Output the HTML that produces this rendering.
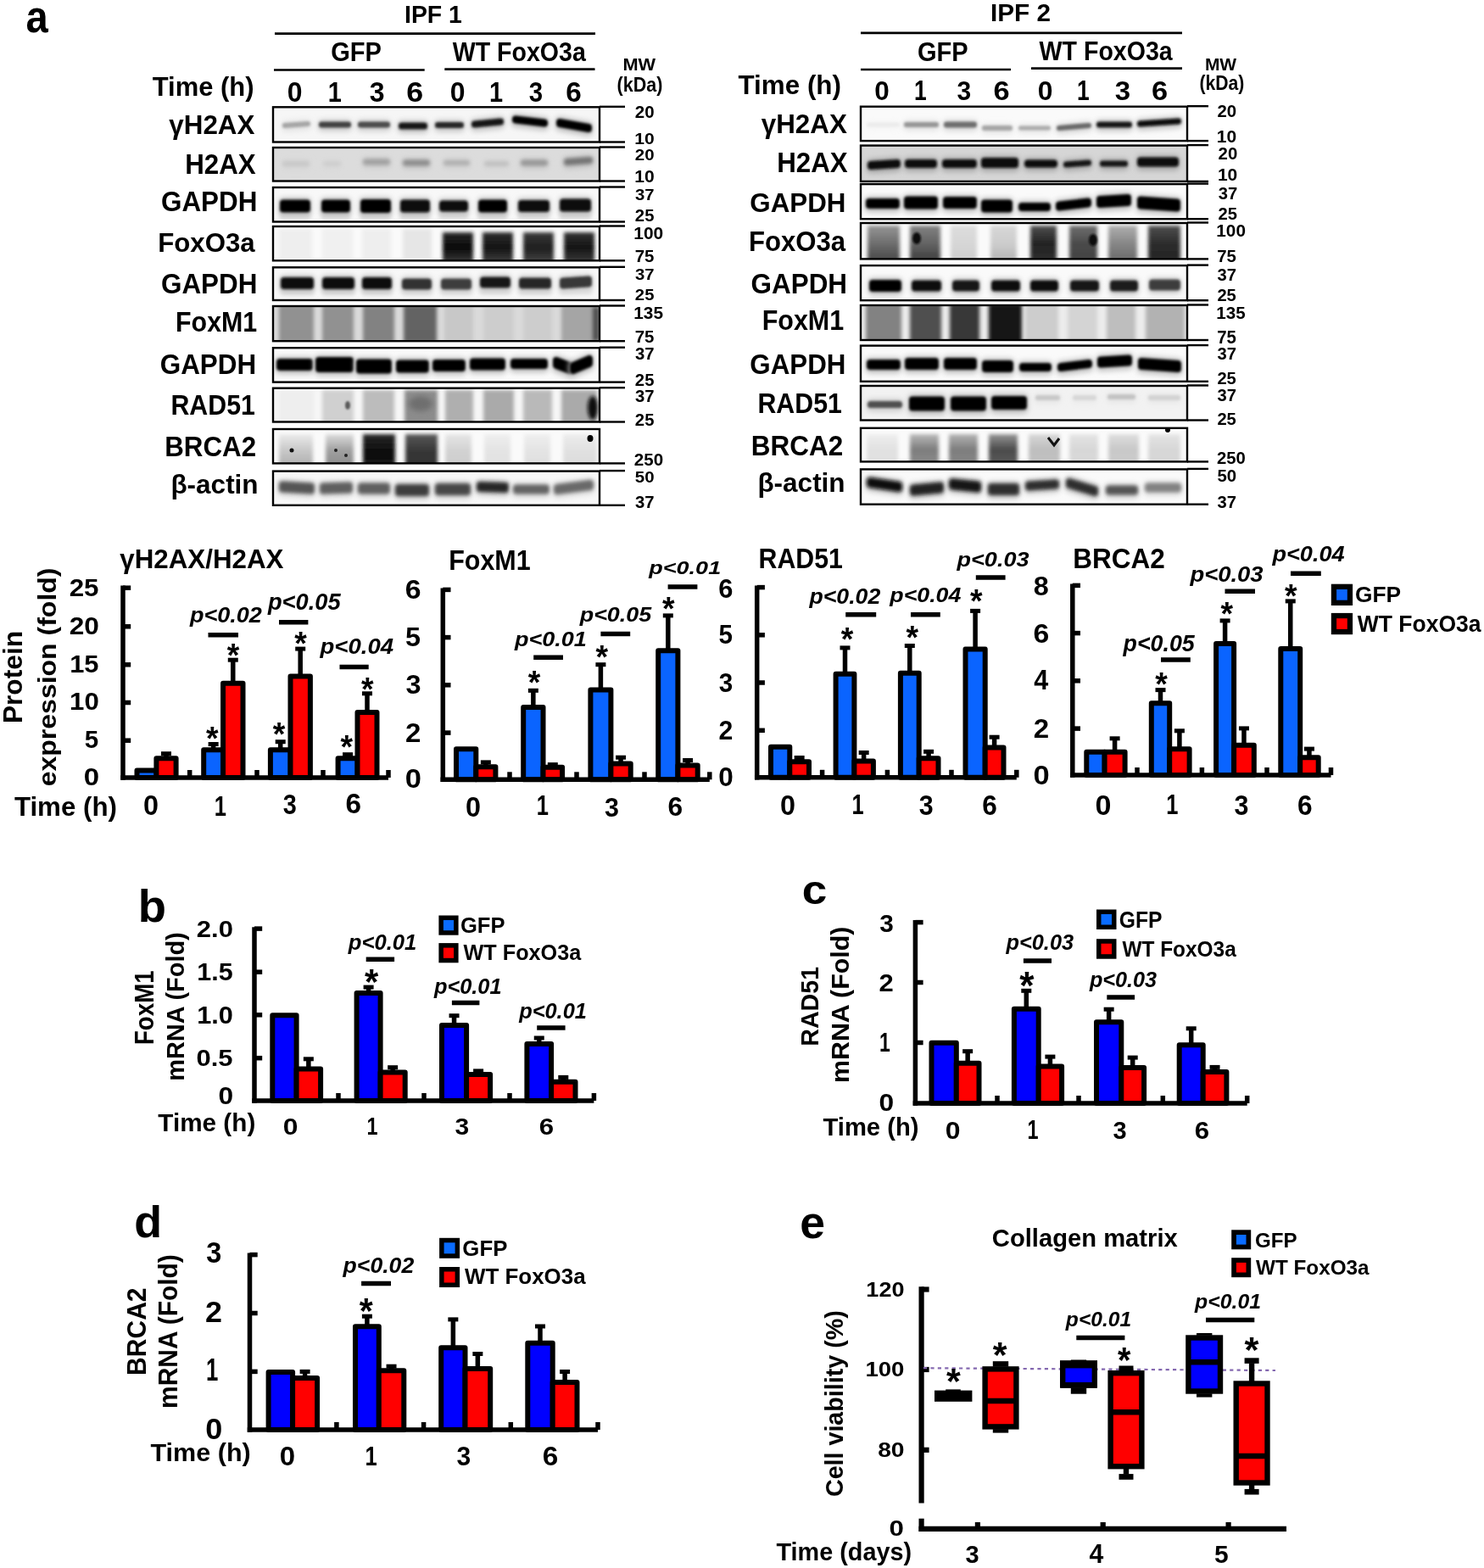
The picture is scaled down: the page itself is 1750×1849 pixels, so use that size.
<!DOCTYPE html>
<html><head><meta charset="utf-8"><title>Figure</title>
<style>html,body{margin:0;padding:0;background:#fff;}svg{display:block;}</style></head>
<body><svg width="1750" height="1849" viewBox="0 0 1750 1849" font-family="'Liberation Sans', Arial, Helvetica, sans-serif">
<rect width="1750" height="1849" fill="#fff"/>
<defs>
<filter id="bl1" filterUnits="userSpaceOnUse" x="0" y="0" width="1750" height="700"><feGaussianBlur stdDeviation="1.2"/></filter>
<filter id="bl15" filterUnits="userSpaceOnUse" x="0" y="0" width="1750" height="700"><feGaussianBlur stdDeviation="1.6"/></filter>
<filter id="bl2" filterUnits="userSpaceOnUse" x="0" y="0" width="1750" height="700"><feGaussianBlur stdDeviation="2"/></filter>
<filter id="bl3" filterUnits="userSpaceOnUse" x="0" y="0" width="1750" height="700"><feGaussianBlur stdDeviation="3"/></filter>
</defs>
<text x="30.58" y="38.45" font-size="54.55" font-weight="bold" textLength="26.24" lengthAdjust="spacingAndGlyphs" fill="#000">a</text>
<text x="477.01" y="27.30" font-size="30.00" font-weight="bold" textLength="67.83" lengthAdjust="spacingAndGlyphs" fill="#000">IPF 1</text>
<line x1="324" y1="39.6" x2="702" y2="39.6" stroke="#000" stroke-width="2.6" stroke-linecap="butt"/>
<text x="390.14" y="72.29" font-size="30.56" font-weight="bold" textLength="59.70" lengthAdjust="spacingAndGlyphs" fill="#000">GFP</text>
<text x="533.70" y="72.28" font-size="31.83" font-weight="bold" textLength="157.13" lengthAdjust="spacingAndGlyphs" fill="#000">WT FoxO3a</text>
<line x1="323" y1="82.5" x2="500.7" y2="82.5" stroke="#000" stroke-width="2.6" stroke-linecap="butt"/>
<line x1="524.3" y1="81.6" x2="701.5" y2="81.6" stroke="#000" stroke-width="2.6" stroke-linecap="butt"/>
<text x="179.69" y="112.52" font-size="30.85" font-weight="bold" textLength="119.88" lengthAdjust="spacingAndGlyphs" fill="#000">Time (h)</text>
<text x="338.72" y="119.87" font-size="32.68" font-weight="bold" textLength="17.75" lengthAdjust="spacingAndGlyphs" fill="#000">0</text>
<text x="386.66" y="120.20" font-size="33.62" font-weight="bold" textLength="16.10" lengthAdjust="spacingAndGlyphs" fill="#000">1</text>
<text x="435.66" y="119.87" font-size="32.68" font-weight="bold" textLength="17.80" lengthAdjust="spacingAndGlyphs" fill="#000">3</text>
<text x="479.17" y="119.87" font-size="32.68" font-weight="bold" textLength="19.93" lengthAdjust="spacingAndGlyphs" fill="#000">6</text>
<text x="530.72" y="119.87" font-size="32.68" font-weight="bold" textLength="17.75" lengthAdjust="spacingAndGlyphs" fill="#000">0</text>
<text x="577.06" y="120.20" font-size="33.62" font-weight="bold" textLength="16.10" lengthAdjust="spacingAndGlyphs" fill="#000">1</text>
<text x="623.71" y="119.87" font-size="32.68" font-weight="bold" textLength="16.35" lengthAdjust="spacingAndGlyphs" fill="#000">3</text>
<text x="667.17" y="119.87" font-size="32.68" font-weight="bold" textLength="18.54" lengthAdjust="spacingAndGlyphs" fill="#000">6</text>
<text x="734.48" y="83.30" font-size="19.57" font-weight="bold" textLength="38.67" lengthAdjust="spacingAndGlyphs" fill="#000">MW</text>
<text x="727.62" y="107.86" font-size="23.51" font-weight="bold" textLength="53.76" lengthAdjust="spacingAndGlyphs" fill="#000">(kDa)</text>
<text x="1167.92" y="24.50" font-size="29.57" font-weight="bold" textLength="71.06" lengthAdjust="spacingAndGlyphs" fill="#000">IPF 2</text>
<line x1="1015" y1="38.9" x2="1394" y2="38.9" stroke="#000" stroke-width="2.6" stroke-linecap="butt"/>
<text x="1082.04" y="72.28" font-size="31.83" font-weight="bold" textLength="59.70" lengthAdjust="spacingAndGlyphs" fill="#000">GFP</text>
<text x="1225.60" y="70.98" font-size="31.83" font-weight="bold" textLength="157.13" lengthAdjust="spacingAndGlyphs" fill="#000">WT FoxO3a</text>
<line x1="1015" y1="82" x2="1192" y2="82" stroke="#000" stroke-width="2.6" stroke-linecap="butt"/>
<line x1="1216" y1="80.6" x2="1394" y2="80.6" stroke="#000" stroke-width="2.6" stroke-linecap="butt"/>
<text x="870.49" y="111.30" font-size="31.91" font-weight="bold" textLength="121.50" lengthAdjust="spacingAndGlyphs" fill="#000">Time (h)</text>
<text x="1031.14" y="117.68" font-size="31.97" font-weight="bold" textLength="17.52" lengthAdjust="spacingAndGlyphs" fill="#000">0</text>
<text x="1077.92" y="118.00" font-size="32.90" font-weight="bold" textLength="14.68" lengthAdjust="spacingAndGlyphs" fill="#000">1</text>
<text x="1128.40" y="117.68" font-size="31.97" font-weight="bold" textLength="16.69" lengthAdjust="spacingAndGlyphs" fill="#000">3</text>
<text x="1171.42" y="117.68" font-size="31.97" font-weight="bold" textLength="19.12" lengthAdjust="spacingAndGlyphs" fill="#000">6</text>
<text x="1223.72" y="117.68" font-size="31.97" font-weight="bold" textLength="17.75" lengthAdjust="spacingAndGlyphs" fill="#000">0</text>
<text x="1269.92" y="118.00" font-size="32.90" font-weight="bold" textLength="14.68" lengthAdjust="spacingAndGlyphs" fill="#000">1</text>
<text x="1314.74" y="117.68" font-size="31.97" font-weight="bold" textLength="18.36" lengthAdjust="spacingAndGlyphs" fill="#000">3</text>
<text x="1357.92" y="117.68" font-size="31.97" font-weight="bold" textLength="19.12" lengthAdjust="spacingAndGlyphs" fill="#000">6</text>
<text x="1420.93" y="83.00" font-size="20.00" font-weight="bold" textLength="37.21" lengthAdjust="spacingAndGlyphs" fill="#000">MW</text>
<text x="1414.44" y="105.87" font-size="23.94" font-weight="bold" textLength="52.93" lengthAdjust="spacingAndGlyphs" fill="#000">(kDa)</text>
<text x="199.29" y="158.35" font-size="31.65" font-weight="bold" textLength="101.15" lengthAdjust="spacingAndGlyphs" fill="#000">γH2AX</text>
<text x="218.21" y="204.60" font-size="32.57" font-weight="bold" textLength="83.54" lengthAdjust="spacingAndGlyphs" fill="#000">H2AX</text>
<text x="189.94" y="249.47" font-size="33.24" font-weight="bold" textLength="113.50" lengthAdjust="spacingAndGlyphs" fill="#000">GAPDH</text>
<text x="186.21" y="297.48" font-size="32.11" font-weight="bold" textLength="114.52" lengthAdjust="spacingAndGlyphs" fill="#000">FoxO3a</text>
<text x="189.94" y="346.27" font-size="32.68" font-weight="bold" textLength="113.50" lengthAdjust="spacingAndGlyphs" fill="#000">GAPDH</text>
<text x="207.07" y="390.67" font-size="32.57" font-weight="bold" textLength="96.15" lengthAdjust="spacingAndGlyphs" fill="#000">FoxM1</text>
<text x="188.74" y="440.67" font-size="33.24" font-weight="bold" textLength="113.50" lengthAdjust="spacingAndGlyphs" fill="#000">GAPDH</text>
<text x="201.48" y="489.07" font-size="32.57" font-weight="bold" textLength="99.40" lengthAdjust="spacingAndGlyphs" fill="#000">RAD51</text>
<text x="194.21" y="537.87" font-size="32.68" font-weight="bold" textLength="108.00" lengthAdjust="spacingAndGlyphs" fill="#000">BRCA2</text>
<text x="201.40" y="582.19" font-size="31.49" font-weight="bold" textLength="103.21" lengthAdjust="spacingAndGlyphs" fill="#000">β-actin</text>
<text x="897.69" y="157.15" font-size="31.65" font-weight="bold" textLength="101.15" lengthAdjust="spacingAndGlyphs" fill="#000">γH2AX</text>
<text x="916.21" y="203.40" font-size="32.57" font-weight="bold" textLength="83.54" lengthAdjust="spacingAndGlyphs" fill="#000">H2AX</text>
<text x="884.35" y="250.28" font-size="32.11" font-weight="bold" textLength="113.09" lengthAdjust="spacingAndGlyphs" fill="#000">GAPDH</text>
<text x="883.02" y="296.27" font-size="32.68" font-weight="bold" textLength="114.11" lengthAdjust="spacingAndGlyphs" fill="#000">FoxO3a</text>
<text x="885.54" y="346.27" font-size="32.68" font-weight="bold" textLength="113.50" lengthAdjust="spacingAndGlyphs" fill="#000">GAPDH</text>
<text x="898.67" y="389.47" font-size="33.14" font-weight="bold" textLength="96.56" lengthAdjust="spacingAndGlyphs" fill="#000">FoxM1</text>
<text x="884.35" y="440.67" font-size="33.24" font-weight="bold" textLength="113.09" lengthAdjust="spacingAndGlyphs" fill="#000">GAPDH</text>
<text x="893.48" y="486.67" font-size="32.57" font-weight="bold" textLength="99.40" lengthAdjust="spacingAndGlyphs" fill="#000">RAD51</text>
<text x="885.80" y="536.67" font-size="33.24" font-weight="bold" textLength="108.41" lengthAdjust="spacingAndGlyphs" fill="#000">BRCA2</text>
<text x="893.40" y="579.79" font-size="31.49" font-weight="bold" textLength="103.21" lengthAdjust="spacingAndGlyphs" fill="#000">β-actin</text>
<text x="748.89" y="139.31" font-size="19.30" font-weight="bold" textLength="22.78" lengthAdjust="spacingAndGlyphs" fill="#000">20</text>
<text x="748.23" y="169.81" font-size="19.15" font-weight="bold" textLength="23.46" lengthAdjust="spacingAndGlyphs" fill="#000">10</text>
<text x="748.89" y="188.61" font-size="19.15" font-weight="bold" textLength="22.78" lengthAdjust="spacingAndGlyphs" fill="#000">20</text>
<text x="748.23" y="215.31" font-size="19.30" font-weight="bold" textLength="23.46" lengthAdjust="spacingAndGlyphs" fill="#000">10</text>
<text x="749.09" y="236.01" font-size="19.15" font-weight="bold" textLength="22.56" lengthAdjust="spacingAndGlyphs" fill="#000">37</text>
<text x="748.89" y="261.41" font-size="19.30" font-weight="bold" textLength="22.56" lengthAdjust="spacingAndGlyphs" fill="#000">25</text>
<text x="747.24" y="282.10" font-size="20.14" font-weight="bold" textLength="34.97" lengthAdjust="spacingAndGlyphs" fill="#000">100</text>
<text x="748.68" y="308.80" font-size="19.57" font-weight="bold" textLength="22.78" lengthAdjust="spacingAndGlyphs" fill="#000">75</text>
<text x="749.09" y="329.51" font-size="19.15" font-weight="bold" textLength="22.56" lengthAdjust="spacingAndGlyphs" fill="#000">37</text>
<text x="748.89" y="354.21" font-size="19.15" font-weight="bold" textLength="22.56" lengthAdjust="spacingAndGlyphs" fill="#000">25</text>
<text x="747.25" y="375.80" font-size="19.72" font-weight="bold" textLength="34.74" lengthAdjust="spacingAndGlyphs" fill="#000">135</text>
<text x="748.68" y="403.90" font-size="20.14" font-weight="bold" textLength="22.78" lengthAdjust="spacingAndGlyphs" fill="#000">75</text>
<text x="749.09" y="423.60" font-size="19.72" font-weight="bold" textLength="22.56" lengthAdjust="spacingAndGlyphs" fill="#000">37</text>
<text x="748.89" y="454.60" font-size="19.86" font-weight="bold" textLength="22.56" lengthAdjust="spacingAndGlyphs" fill="#000">25</text>
<text x="749.09" y="473.60" font-size="19.86" font-weight="bold" textLength="22.56" lengthAdjust="spacingAndGlyphs" fill="#000">37</text>
<text x="748.89" y="501.70" font-size="19.86" font-weight="bold" textLength="22.56" lengthAdjust="spacingAndGlyphs" fill="#000">25</text>
<text x="747.88" y="548.80" font-size="19.72" font-weight="bold" textLength="34.31" lengthAdjust="spacingAndGlyphs" fill="#000">250</text>
<text x="748.89" y="569.21" font-size="18.87" font-weight="bold" textLength="22.78" lengthAdjust="spacingAndGlyphs" fill="#000">50</text>
<text x="749.09" y="599.39" font-size="20.70" font-weight="bold" textLength="22.56" lengthAdjust="spacingAndGlyphs" fill="#000">37</text>
<text x="1435.39" y="137.89" font-size="20.70" font-weight="bold" textLength="22.67" lengthAdjust="spacingAndGlyphs" fill="#000">20</text>
<text x="1434.74" y="168.39" font-size="20.56" font-weight="bold" textLength="23.35" lengthAdjust="spacingAndGlyphs" fill="#000">10</text>
<text x="1436.59" y="188.09" font-size="20.56" font-weight="bold" textLength="22.67" lengthAdjust="spacingAndGlyphs" fill="#000">20</text>
<text x="1435.94" y="213.29" font-size="20.70" font-weight="bold" textLength="23.35" lengthAdjust="spacingAndGlyphs" fill="#000">10</text>
<text x="1436.80" y="234.70" font-size="19.58" font-weight="bold" textLength="22.46" lengthAdjust="spacingAndGlyphs" fill="#000">37</text>
<text x="1436.59" y="258.60" font-size="20.14" font-weight="bold" textLength="22.46" lengthAdjust="spacingAndGlyphs" fill="#000">25</text>
<text x="1434.36" y="279.49" font-size="20.99" font-weight="bold" textLength="34.54" lengthAdjust="spacingAndGlyphs" fill="#000">100</text>
<text x="1435.18" y="308.79" font-size="20.57" font-weight="bold" textLength="22.67" lengthAdjust="spacingAndGlyphs" fill="#000">75</text>
<text x="1435.60" y="330.79" font-size="20.85" font-weight="bold" textLength="22.46" lengthAdjust="spacingAndGlyphs" fill="#000">37</text>
<text x="1435.39" y="354.99" font-size="20.99" font-weight="bold" textLength="22.46" lengthAdjust="spacingAndGlyphs" fill="#000">25</text>
<text x="1434.37" y="375.59" font-size="20.99" font-weight="bold" textLength="34.32" lengthAdjust="spacingAndGlyphs" fill="#000">135</text>
<text x="1435.18" y="404.89" font-size="21.43" font-weight="bold" textLength="22.67" lengthAdjust="spacingAndGlyphs" fill="#000">75</text>
<text x="1435.60" y="423.90" font-size="20.28" font-weight="bold" textLength="22.46" lengthAdjust="spacingAndGlyphs" fill="#000">37</text>
<text x="1435.39" y="453.20" font-size="20.28" font-weight="bold" textLength="22.46" lengthAdjust="spacingAndGlyphs" fill="#000">25</text>
<text x="1435.60" y="472.70" font-size="20.28" font-weight="bold" textLength="22.46" lengthAdjust="spacingAndGlyphs" fill="#000">37</text>
<text x="1435.39" y="500.50" font-size="20.28" font-weight="bold" textLength="22.46" lengthAdjust="spacingAndGlyphs" fill="#000">25</text>
<text x="1434.99" y="546.70" font-size="20.28" font-weight="bold" textLength="33.89" lengthAdjust="spacingAndGlyphs" fill="#000">250</text>
<text x="1435.39" y="568.29" font-size="20.99" font-weight="bold" textLength="22.67" lengthAdjust="spacingAndGlyphs" fill="#000">50</text>
<text x="1435.60" y="598.59" font-size="20.99" font-weight="bold" textLength="22.46" lengthAdjust="spacingAndGlyphs" fill="#000">37</text>
<clipPath id="c1"><rect x="322" y="126.3" width="385" height="41.2"/></clipPath>
<g clip-path="url(#c1)"><rect x="322" y="126.3" width="385" height="41.2" fill="rgb(246,246,246)"/><path d="M337.0 147.5L362.0 145.5L362.0 148.5L337.0 150.5Z" fill="rgb(228,228,228)" stroke="rgb(228,228,228)" stroke-width="10.0" stroke-linejoin="round" filter="url(#bl3)"/><path d="M335.7 147.7L363.3 145.7L363.3 146.3L335.7 148.3Z" fill="rgb(165,165,165)" stroke="rgb(165,165,165)" stroke-width="5.5" stroke-linejoin="round" filter="url(#bl15)"/><path d="M380.0 146.0L410.0 146.0L410.0 150.0L380.0 150.0Z" fill="rgb(206,206,206)" stroke="rgb(206,206,206)" stroke-width="10.0" stroke-linejoin="round" filter="url(#bl3)"/><path d="M379.2 146.7L410.8 146.7L410.8 147.3L379.2 147.3Z" fill="rgb(65,65,65)" stroke="rgb(65,65,65)" stroke-width="6.4" stroke-linejoin="round" filter="url(#bl15)"/><path d="M426.0 146.0L456.0 146.0L456.0 150.0L426.0 150.0Z" fill="rgb(208,208,208)" stroke="rgb(208,208,208)" stroke-width="10.0" stroke-linejoin="round" filter="url(#bl3)"/><path d="M425.2 146.7L456.8 146.7L456.8 147.3L425.2 147.3Z" fill="rgb(75,75,75)" stroke="rgb(75,75,75)" stroke-width="6.4" stroke-linejoin="round" filter="url(#bl15)"/><path d="M474.0 147.0L500.0 147.0L500.0 152.0L474.0 152.0Z" fill="rgb(196,196,196)" stroke="rgb(196,196,196)" stroke-width="10.0" stroke-linejoin="round" filter="url(#bl3)"/><path d="M473.6 148.1L500.4 148.1L500.4 148.9L473.6 148.9Z" fill="rgb(20,20,20)" stroke="rgb(20,20,20)" stroke-width="7.3" stroke-linejoin="round" filter="url(#bl15)"/><path d="M517.0 146.5L543.0 146.5L543.0 150.5L517.0 150.5Z" fill="rgb(200,200,200)" stroke="rgb(200,200,200)" stroke-width="10.0" stroke-linejoin="round" filter="url(#bl3)"/><path d="M516.2 147.2L543.8 147.2L543.8 147.8L516.2 147.8Z" fill="rgb(40,40,40)" stroke="rgb(40,40,40)" stroke-width="6.4" stroke-linejoin="round" filter="url(#bl15)"/><path d="M560.0 145.0L590.0 142.0L590.0 147.0L560.0 150.0Z" fill="rgb(196,196,196)" stroke="rgb(196,196,196)" stroke-width="10.0" stroke-linejoin="round" filter="url(#bl3)"/><path d="M559.6 146.1L590.4 143.1L590.4 143.9L559.6 146.9Z" fill="rgb(20,20,20)" stroke="rgb(20,20,20)" stroke-width="7.3" stroke-linejoin="round" filter="url(#bl15)"/><path d="M608.0 139.0L642.0 143.0L642.0 149.0L608.0 145.0Z" fill="rgb(192,192,192)" stroke="rgb(192,192,192)" stroke-width="10.0" stroke-linejoin="round" filter="url(#bl3)"/><path d="M608.0 140.5L642.0 144.5L642.0 145.5L608.0 141.5Z" fill="rgb(5,5,5)" stroke="rgb(5,5,5)" stroke-width="8.0" stroke-linejoin="round" filter="url(#bl15)"/><path d="M660.0 142.5L694.0 148.5L694.0 155.5L660.0 149.5Z" fill="rgb(192,192,192)" stroke="rgb(192,192,192)" stroke-width="10.0" stroke-linejoin="round" filter="url(#bl3)"/><path d="M660.0 144.0L694.0 150.0L694.0 152.0L660.0 146.0Z" fill="rgb(5,5,5)" stroke="rgb(5,5,5)" stroke-width="8.0" stroke-linejoin="round" filter="url(#bl15)"/></g>
<rect x="322" y="126.3" width="385" height="41.2" fill="none" stroke="#000" stroke-width="2.4"/>
<line x1="707" y1="125.8" x2="737" y2="125.8" stroke="#000" stroke-width="2.4"/>
<line x1="707" y1="167.5" x2="737" y2="167.5" stroke="#000" stroke-width="2.4"/>
<clipPath id="c2"><rect x="322" y="174" width="385" height="39.5"/></clipPath>
<g clip-path="url(#c2)"><rect x="322" y="174" width="385" height="39.5" fill="rgb(220,220,220)"/><path d="M337.0 192.5L361.0 192.5L361.0 195.5L337.0 195.5Z" fill="rgb(215,215,215)" stroke="rgb(215,215,215)" stroke-width="10.0" stroke-linejoin="round" filter="url(#bl3)"/><path d="M335.7 192.7L362.3 192.7L362.3 193.3L335.7 193.3Z" fill="rgb(200,200,200)" stroke="rgb(200,200,200)" stroke-width="5.5" stroke-linejoin="round" filter="url(#bl2)"/><path d="M385.0 193.0L398.0 193.0L398.0 195.0L385.0 195.0Z" fill="rgb(216,216,216)" stroke="rgb(216,216,216)" stroke-width="10.0" stroke-linejoin="round" filter="url(#bl3)"/><path d="M383.3 192.8L399.7 192.8L399.7 193.2L383.3 193.2Z" fill="rgb(205,205,205)" stroke="rgb(205,205,205)" stroke-width="4.5" stroke-linejoin="round" filter="url(#bl2)"/><path d="M432.0 190.0L456.0 190.0L456.0 194.0L432.0 194.0Z" fill="rgb(206,206,206)" stroke="rgb(206,206,206)" stroke-width="10.0" stroke-linejoin="round" filter="url(#bl3)"/><path d="M431.2 190.7L456.8 190.7L456.8 191.3L431.2 191.3Z" fill="rgb(160,160,160)" stroke="rgb(160,160,160)" stroke-width="6.4" stroke-linejoin="round" filter="url(#bl2)"/><path d="M479.0 191.0L503.0 191.0L503.0 195.0L479.0 195.0Z" fill="rgb(202,202,202)" stroke="rgb(202,202,202)" stroke-width="10.0" stroke-linejoin="round" filter="url(#bl3)"/><path d="M478.2 191.7L503.8 191.7L503.8 192.3L478.2 192.3Z" fill="rgb(140,140,140)" stroke="rgb(140,140,140)" stroke-width="6.4" stroke-linejoin="round" filter="url(#bl2)"/><path d="M527.0 191.5L550.0 191.5L550.0 194.5L527.0 194.5Z" fill="rgb(210,210,210)" stroke="rgb(210,210,210)" stroke-width="10.0" stroke-linejoin="round" filter="url(#bl3)"/><path d="M525.7 191.7L551.3 191.7L551.3 192.3L525.7 192.3Z" fill="rgb(175,175,175)" stroke="rgb(175,175,175)" stroke-width="5.5" stroke-linejoin="round" filter="url(#bl2)"/><path d="M575.0 193.0L596.0 193.0L596.0 195.0L575.0 195.0Z" fill="rgb(213,213,213)" stroke="rgb(213,213,213)" stroke-width="10.0" stroke-linejoin="round" filter="url(#bl3)"/><path d="M573.3 192.8L597.7 192.8L597.7 193.2L573.3 193.2Z" fill="rgb(190,190,190)" stroke="rgb(190,190,190)" stroke-width="4.5" stroke-linejoin="round" filter="url(#bl2)"/><path d="M618.0 191.0L642.0 191.0L642.0 195.0L618.0 195.0Z" fill="rgb(204,204,204)" stroke="rgb(204,204,204)" stroke-width="10.0" stroke-linejoin="round" filter="url(#bl3)"/><path d="M617.2 191.7L642.8 191.7L642.8 192.3L617.2 192.3Z" fill="rgb(150,150,150)" stroke="rgb(150,150,150)" stroke-width="6.4" stroke-linejoin="round" filter="url(#bl2)"/><path d="M669.0 189.5L695.0 187.5L695.0 192.5L669.0 194.5Z" fill="rgb(196,196,196)" stroke="rgb(196,196,196)" stroke-width="10.0" stroke-linejoin="round" filter="url(#bl3)"/><path d="M668.6 190.6L695.4 188.6L695.4 189.4L668.6 191.4Z" fill="rgb(115,115,115)" stroke="rgb(115,115,115)" stroke-width="7.3" stroke-linejoin="round" filter="url(#bl2)"/></g>
<rect x="322" y="174" width="385" height="39.5" fill="none" stroke="#000" stroke-width="2.4"/>
<line x1="707" y1="173.5" x2="737" y2="173.5" stroke="#000" stroke-width="2.4"/>
<line x1="707" y1="213.5" x2="737" y2="213.5" stroke="#000" stroke-width="2.4"/>
<clipPath id="c3"><rect x="322" y="221" width="385" height="40.5"/></clipPath>
<g clip-path="url(#c3)"><rect x="322" y="221" width="385" height="40.5" fill="rgb(248,248,248)"/><rect x="330.0" y="244.0" width="36.0" height="14.0" fill="rgb(215,215,215)" filter="url(#bl2)"/><rect x="379.0" y="244.0" width="34.0" height="14.0" fill="rgb(215,215,215)" filter="url(#bl2)"/><rect x="425.0" y="244.0" width="36.0" height="14.0" fill="rgb(215,215,215)" filter="url(#bl2)"/><rect x="472.0" y="244.0" width="35.0" height="14.0" fill="rgb(215,215,215)" filter="url(#bl2)"/><rect x="518.0" y="244.0" width="34.0" height="14.0" fill="rgb(220,220,220)" filter="url(#bl2)"/><rect x="564.0" y="244.0" width="34.0" height="14.0" fill="rgb(215,215,215)" filter="url(#bl2)"/><rect x="611.0" y="244.0" width="37.0" height="14.0" fill="rgb(220,220,220)" filter="url(#bl2)"/><rect x="660.0" y="244.0" width="37.0" height="14.0" fill="rgb(215,215,215)" filter="url(#bl2)"/><path d="M334.0 238.0L362.0 238.0L362.0 250.0L334.0 250.0Z" fill="rgb(196,196,196)" stroke="rgb(196,196,196)" stroke-width="10.0" stroke-linejoin="round" filter="url(#bl3)"/><path d="M334.0 239.5L362.0 239.5L362.0 246.5L334.0 246.5Z" fill="rgb(5,5,5)" stroke="rgb(5,5,5)" stroke-width="8.0" stroke-linejoin="round" filter="url(#bl15)"/><path d="M383.0 238.0L409.0 238.0L409.0 250.0L383.0 250.0Z" fill="rgb(196,196,196)" stroke="rgb(196,196,196)" stroke-width="10.0" stroke-linejoin="round" filter="url(#bl3)"/><path d="M383.0 239.5L409.0 239.5L409.0 246.5L383.0 246.5Z" fill="rgb(5,5,5)" stroke="rgb(5,5,5)" stroke-width="8.0" stroke-linejoin="round" filter="url(#bl15)"/><path d="M429.0 237.5L457.0 237.5L457.0 250.5L429.0 250.5Z" fill="rgb(195,195,195)" stroke="rgb(195,195,195)" stroke-width="10.0" stroke-linejoin="round" filter="url(#bl3)"/><path d="M429.0 239.0L457.0 239.0L457.0 247.0L429.0 247.0Z" fill="rgb(3,3,3)" stroke="rgb(3,3,3)" stroke-width="8.0" stroke-linejoin="round" filter="url(#bl15)"/><path d="M476.0 238.0L503.0 238.0L503.0 250.0L476.0 250.0Z" fill="rgb(196,196,196)" stroke="rgb(196,196,196)" stroke-width="10.0" stroke-linejoin="round" filter="url(#bl3)"/><path d="M476.0 239.5L503.0 239.5L503.0 246.5L476.0 246.5Z" fill="rgb(8,8,8)" stroke="rgb(8,8,8)" stroke-width="8.0" stroke-linejoin="round" filter="url(#bl15)"/><path d="M522.0 239.0L548.0 239.0L548.0 249.0L522.0 249.0Z" fill="rgb(197,197,197)" stroke="rgb(197,197,197)" stroke-width="10.0" stroke-linejoin="round" filter="url(#bl3)"/><path d="M522.0 240.5L548.0 240.5L548.0 245.5L522.0 245.5Z" fill="rgb(12,12,12)" stroke="rgb(12,12,12)" stroke-width="8.0" stroke-linejoin="round" filter="url(#bl15)"/><path d="M568.0 238.0L594.0 238.0L594.0 250.0L568.0 250.0Z" fill="rgb(196,196,196)" stroke="rgb(196,196,196)" stroke-width="10.0" stroke-linejoin="round" filter="url(#bl3)"/><path d="M568.0 239.5L594.0 239.5L594.0 246.5L568.0 246.5Z" fill="rgb(6,6,6)" stroke="rgb(6,6,6)" stroke-width="8.0" stroke-linejoin="round" filter="url(#bl15)"/><path d="M615.0 238.5L644.0 238.5L644.0 249.5L615.0 249.5Z" fill="rgb(196,196,196)" stroke="rgb(196,196,196)" stroke-width="10.0" stroke-linejoin="round" filter="url(#bl3)"/><path d="M615.0 240.0L644.0 240.0L644.0 246.0L615.0 246.0Z" fill="rgb(8,8,8)" stroke="rgb(8,8,8)" stroke-width="8.0" stroke-linejoin="round" filter="url(#bl15)"/><path d="M664.0 237.0L693.0 237.0L693.0 249.0L664.0 249.0Z" fill="rgb(196,196,196)" stroke="rgb(196,196,196)" stroke-width="10.0" stroke-linejoin="round" filter="url(#bl3)"/><path d="M664.0 238.5L693.0 238.5L693.0 245.5L664.0 245.5Z" fill="rgb(8,8,8)" stroke="rgb(8,8,8)" stroke-width="8.0" stroke-linejoin="round" filter="url(#bl15)"/></g>
<rect x="322" y="221" width="385" height="40.5" fill="none" stroke="#000" stroke-width="2.4"/>
<line x1="707" y1="220.5" x2="737" y2="220.5" stroke="#000" stroke-width="2.4"/>
<line x1="707" y1="261.5" x2="737" y2="261.5" stroke="#000" stroke-width="2.4"/>
<clipPath id="c4"><rect x="322" y="267" width="385" height="40.30000000000001"/></clipPath>
<g clip-path="url(#c4)"><rect x="322" y="267" width="385" height="40.30000000000001" fill="rgb(250,250,250)"/><rect x="329.0" y="270.0" width="39.0" height="36.0" fill="rgb(238,238,238)" filter="url(#bl2)"/><rect x="380.0" y="270.0" width="36.0" height="36.0" fill="rgb(240,240,240)" filter="url(#bl2)"/><rect x="427.0" y="270.0" width="34.0" height="36.0" fill="rgb(238,238,238)" filter="url(#bl2)"/><rect x="475.0" y="270.0" width="34.0" height="36.0" fill="rgb(230,230,230)" filter="url(#bl2)"/><linearGradient id="lg1" x1="0" y1="0" x2="0" y2="1"><stop offset="0" stop-color="rgb(40,40,40)"/><stop offset="0.5" stop-color="rgb(10,10,10)"/><stop offset="1" stop-color="rgb(60,60,60)"/></linearGradient><rect x="522.0" y="274.0" width="36.0" height="36.0" fill="url(#lg1)" filter="url(#bl2)"/><linearGradient id="lg2" x1="0" y1="0" x2="0" y2="1"><stop offset="0" stop-color="rgb(45,45,45)"/><stop offset="0.5" stop-color="rgb(20,20,20)"/><stop offset="1" stop-color="rgb(65,65,65)"/></linearGradient><rect x="569.0" y="274.0" width="36.0" height="36.0" fill="url(#lg2)" filter="url(#bl2)"/><linearGradient id="lg3" x1="0" y1="0" x2="0" y2="1"><stop offset="0" stop-color="rgb(60,60,60)"/><stop offset="0.5" stop-color="rgb(30,30,30)"/><stop offset="1" stop-color="rgb(70,70,70)"/></linearGradient><rect x="617.0" y="274.0" width="36.0" height="36.0" fill="url(#lg3)" filter="url(#bl2)"/><linearGradient id="lg4" x1="0" y1="0" x2="0" y2="1"><stop offset="0" stop-color="rgb(50,50,50)"/><stop offset="0.5" stop-color="rgb(20,20,20)"/><stop offset="1" stop-color="rgb(60,60,60)"/></linearGradient><rect x="665.0" y="274.0" width="36.0" height="36.0" fill="url(#lg4)" filter="url(#bl2)"/></g>
<rect x="322" y="267" width="385" height="40.30000000000001" fill="none" stroke="#000" stroke-width="2.4"/>
<line x1="707" y1="266.5" x2="737" y2="266.5" stroke="#000" stroke-width="2.4"/>
<line x1="707" y1="307.3" x2="737" y2="307.3" stroke="#000" stroke-width="2.4"/>
<clipPath id="c5"><rect x="322" y="315.3" width="385" height="38.69999999999999"/></clipPath>
<g clip-path="url(#c5)"><rect x="322" y="315.3" width="385" height="38.69999999999999" fill="rgb(248,248,248)"/><rect x="331.0" y="335.0" width="39.0" height="13.0" fill="rgb(225,225,225)" filter="url(#bl2)"/><rect x="380.0" y="335.0" width="38.0" height="13.0" fill="rgb(225,225,225)" filter="url(#bl2)"/><rect x="427.0" y="335.0" width="35.0" height="13.0" fill="rgb(225,225,225)" filter="url(#bl2)"/><rect x="474.0" y="335.0" width="35.0" height="13.0" fill="rgb(230,230,230)" filter="url(#bl2)"/><rect x="520.0" y="335.0" width="36.0" height="13.0" fill="rgb(230,230,230)" filter="url(#bl2)"/><rect x="566.0" y="335.0" width="36.0" height="13.0" fill="rgb(228,228,228)" filter="url(#bl2)"/><rect x="612.0" y="335.0" width="38.0" height="13.0" fill="rgb(228,228,228)" filter="url(#bl2)"/><rect x="660.0" y="335.0" width="38.0" height="13.0" fill="rgb(230,230,230)" filter="url(#bl2)"/><path d="M335.0 329.5L366.0 329.5L366.0 340.5L335.0 340.5Z" fill="rgb(196,196,196)" stroke="rgb(196,196,196)" stroke-width="10.0" stroke-linejoin="round" filter="url(#bl3)"/><path d="M335.0 331.0L366.0 331.0L366.0 337.0L335.0 337.0Z" fill="rgb(8,8,8)" stroke="rgb(8,8,8)" stroke-width="8.0" stroke-linejoin="round" filter="url(#bl15)"/><path d="M384.0 329.5L414.0 329.5L414.0 340.5L384.0 340.5Z" fill="rgb(197,197,197)" stroke="rgb(197,197,197)" stroke-width="10.0" stroke-linejoin="round" filter="url(#bl3)"/><path d="M384.0 331.0L414.0 331.0L414.0 337.0L384.0 337.0Z" fill="rgb(10,10,10)" stroke="rgb(10,10,10)" stroke-width="8.0" stroke-linejoin="round" filter="url(#bl15)"/><path d="M431.0 329.5L458.0 329.5L458.0 340.5L431.0 340.5Z" fill="rgb(196,196,196)" stroke="rgb(196,196,196)" stroke-width="10.0" stroke-linejoin="round" filter="url(#bl3)"/><path d="M431.0 331.0L458.0 331.0L458.0 337.0L431.0 337.0Z" fill="rgb(8,8,8)" stroke="rgb(8,8,8)" stroke-width="8.0" stroke-linejoin="round" filter="url(#bl15)"/><path d="M478.0 331.0L505.0 331.0L505.0 341.0L478.0 341.0Z" fill="rgb(206,206,206)" stroke="rgb(206,206,206)" stroke-width="10.0" stroke-linejoin="round" filter="url(#bl3)"/><path d="M478.0 332.5L505.0 332.5L505.0 337.5L478.0 337.5Z" fill="rgb(50,50,50)" stroke="rgb(50,50,50)" stroke-width="8.0" stroke-linejoin="round" filter="url(#bl15)"/><path d="M524.0 331.0L552.0 331.0L552.0 341.0L524.0 341.0Z" fill="rgb(208,208,208)" stroke="rgb(208,208,208)" stroke-width="10.0" stroke-linejoin="round" filter="url(#bl3)"/><path d="M524.0 332.5L552.0 332.5L552.0 337.5L524.0 337.5Z" fill="rgb(60,60,60)" stroke="rgb(60,60,60)" stroke-width="8.0" stroke-linejoin="round" filter="url(#bl15)"/><path d="M570.0 329.0L598.0 329.0L598.0 339.0L570.0 339.0Z" fill="rgb(199,199,199)" stroke="rgb(199,199,199)" stroke-width="10.0" stroke-linejoin="round" filter="url(#bl3)"/><path d="M570.0 330.5L598.0 330.5L598.0 335.5L570.0 335.5Z" fill="rgb(20,20,20)" stroke="rgb(20,20,20)" stroke-width="8.0" stroke-linejoin="round" filter="url(#bl15)"/><path d="M616.0 330.0L646.0 330.0L646.0 340.0L616.0 340.0Z" fill="rgb(203,203,203)" stroke="rgb(203,203,203)" stroke-width="10.0" stroke-linejoin="round" filter="url(#bl3)"/><path d="M616.0 331.5L646.0 331.5L646.0 336.5L616.0 336.5Z" fill="rgb(40,40,40)" stroke="rgb(40,40,40)" stroke-width="8.0" stroke-linejoin="round" filter="url(#bl15)"/><path d="M664.0 330.0L694.0 328.0L694.0 338.0L664.0 340.0Z" fill="rgb(207,207,207)" stroke="rgb(207,207,207)" stroke-width="10.0" stroke-linejoin="round" filter="url(#bl3)"/><path d="M664.0 331.5L694.0 329.5L694.0 334.5L664.0 336.5Z" fill="rgb(55,55,55)" stroke="rgb(55,55,55)" stroke-width="8.0" stroke-linejoin="round" filter="url(#bl15)"/></g>
<rect x="322" y="315.3" width="385" height="38.69999999999999" fill="none" stroke="#000" stroke-width="2.4"/>
<line x1="707" y1="314.8" x2="737" y2="314.8" stroke="#000" stroke-width="2.4"/>
<line x1="707" y1="354" x2="737" y2="354" stroke="#000" stroke-width="2.4"/>
<clipPath id="c6"><rect x="322" y="361" width="385" height="41.19999999999999"/></clipPath>
<g clip-path="url(#c6)"><rect x="322" y="361" width="385" height="41.19999999999999" fill="rgb(218,218,218)"/><rect x="329.0" y="360.0" width="41.0" height="44.0" fill="rgb(145,145,145)" filter="url(#bl2)"/><rect x="380.0" y="360.0" width="37.0" height="44.0" fill="rgb(145,145,145)" filter="url(#bl2)"/><rect x="428.0" y="360.0" width="37.0" height="44.0" fill="rgb(130,130,130)" filter="url(#bl2)"/><rect x="476.0" y="360.0" width="39.0" height="44.0" fill="rgb(100,100,100)" filter="url(#bl2)"/><rect x="524.0" y="360.0" width="34.0" height="44.0" fill="rgb(200,200,200)" filter="url(#bl2)"/><rect x="570.0" y="360.0" width="36.0" height="44.0" fill="rgb(205,205,205)" filter="url(#bl2)"/><rect x="617.0" y="360.0" width="34.0" height="44.0" fill="rgb(205,205,205)" filter="url(#bl2)"/><rect x="662.0" y="360.0" width="42.0" height="44.0" fill="rgb(165,165,165)" filter="url(#bl2)"/><rect x="699" y="362" width="8" height="40" fill="rgb(80,80,80)" filter="url(#bl2)"/></g>
<rect x="322" y="361" width="385" height="41.19999999999999" fill="none" stroke="#000" stroke-width="2.4"/>
<line x1="707" y1="360.5" x2="737" y2="360.5" stroke="#000" stroke-width="2.4"/>
<line x1="707" y1="402.2" x2="737" y2="402.2" stroke="#000" stroke-width="2.4"/>
<clipPath id="c7"><rect x="322" y="410.2" width="385" height="40.400000000000034"/></clipPath>
<g clip-path="url(#c7)"><rect x="322" y="410.2" width="385" height="40.400000000000034" fill="rgb(250,250,250)"/><path d="M330.0 425.5L365.0 425.5L365.0 436.5L330.0 436.5Z" fill="rgb(195,195,195)" stroke="rgb(195,195,195)" stroke-width="10.0" stroke-linejoin="round" filter="url(#bl3)"/><path d="M330.0 427.0L365.0 427.0L365.0 433.0L330.0 433.0Z" fill="rgb(2,2,2)" stroke="rgb(2,2,2)" stroke-width="8.0" stroke-linejoin="round" filter="url(#bl15)"/><path d="M376.0 423.5L413.0 423.5L413.0 438.5L376.0 438.5Z" fill="rgb(195,195,195)" stroke="rgb(195,195,195)" stroke-width="10.0" stroke-linejoin="round" filter="url(#bl3)"/><path d="M376.0 425.0L413.0 425.0L413.0 435.0L376.0 435.0Z" fill="rgb(2,2,2)" stroke="rgb(2,2,2)" stroke-width="8.0" stroke-linejoin="round" filter="url(#bl15)"/><path d="M424.0 426.0L458.0 426.0L458.0 440.0L424.0 440.0Z" fill="rgb(195,195,195)" stroke="rgb(195,195,195)" stroke-width="10.0" stroke-linejoin="round" filter="url(#bl3)"/><path d="M424.0 427.5L458.0 427.5L458.0 436.5L424.0 436.5Z" fill="rgb(2,2,2)" stroke="rgb(2,2,2)" stroke-width="8.0" stroke-linejoin="round" filter="url(#bl15)"/><path d="M471.0 427.0L502.0 427.0L502.0 439.0L471.0 439.0Z" fill="rgb(195,195,195)" stroke="rgb(195,195,195)" stroke-width="10.0" stroke-linejoin="round" filter="url(#bl3)"/><path d="M471.0 428.5L502.0 428.5L502.0 435.5L471.0 435.5Z" fill="rgb(2,2,2)" stroke="rgb(2,2,2)" stroke-width="8.0" stroke-linejoin="round" filter="url(#bl15)"/><path d="M514.0 426.5L545.0 426.5L545.0 437.5L514.0 437.5Z" fill="rgb(195,195,195)" stroke="rgb(195,195,195)" stroke-width="10.0" stroke-linejoin="round" filter="url(#bl3)"/><path d="M514.0 428.0L545.0 428.0L545.0 434.0L514.0 434.0Z" fill="rgb(2,2,2)" stroke="rgb(2,2,2)" stroke-width="8.0" stroke-linejoin="round" filter="url(#bl15)"/><path d="M558.0 425.0L592.0 425.0L592.0 436.0L558.0 436.0Z" fill="rgb(195,195,195)" stroke="rgb(195,195,195)" stroke-width="10.0" stroke-linejoin="round" filter="url(#bl3)"/><path d="M558.0 426.5L592.0 426.5L592.0 432.5L558.0 432.5Z" fill="rgb(2,2,2)" stroke="rgb(2,2,2)" stroke-width="8.0" stroke-linejoin="round" filter="url(#bl15)"/><path d="M606.0 425.5L642.0 425.5L642.0 434.5L606.0 434.5Z" fill="rgb(195,195,195)" stroke="rgb(195,195,195)" stroke-width="10.0" stroke-linejoin="round" filter="url(#bl3)"/><path d="M606.0 427.0L642.0 427.0L642.0 431.0L606.0 431.0Z" fill="rgb(4,4,4)" stroke="rgb(4,4,4)" stroke-width="8.0" stroke-linejoin="round" filter="url(#bl15)"/><path d="M656.0 423.5L672.0 429.5L672.0 440.5L656.0 434.5Z" fill="rgb(195,195,195)" stroke="rgb(195,195,195)" stroke-width="10.0" stroke-linejoin="round" filter="url(#bl3)"/><path d="M656.0 425.0L672.0 431.0L672.0 437.0L656.0 431.0Z" fill="rgb(2,2,2)" stroke="rgb(2,2,2)" stroke-width="8.0" stroke-linejoin="round" filter="url(#bl15)"/><path d="M676.0 429.5L695.0 421.5L695.0 432.5L676.0 440.5Z" fill="rgb(195,195,195)" stroke="rgb(195,195,195)" stroke-width="10.0" stroke-linejoin="round" filter="url(#bl3)"/><path d="M676.0 431.0L695.0 423.0L695.0 429.0L676.0 437.0Z" fill="rgb(2,2,2)" stroke="rgb(2,2,2)" stroke-width="8.0" stroke-linejoin="round" filter="url(#bl15)"/></g>
<rect x="322" y="410.2" width="385" height="40.400000000000034" fill="none" stroke="#000" stroke-width="2.4"/>
<line x1="707" y1="409.7" x2="737" y2="409.7" stroke="#000" stroke-width="2.4"/>
<line x1="707" y1="450.6" x2="737" y2="450.6" stroke="#000" stroke-width="2.4"/>
<clipPath id="c8"><rect x="322" y="457.7" width="385" height="39.80000000000001"/></clipPath>
<g clip-path="url(#c8)"><rect x="322" y="457.7" width="385" height="39.80000000000001" fill="rgb(246,246,246)"/><rect x="329.0" y="460.0" width="41.0" height="40.0" fill="rgb(238,238,238)" filter="url(#bl2)"/><rect x="380.0" y="460.0" width="37.0" height="40.0" fill="rgb(208,208,208)" filter="url(#bl2)"/><rect x="428.0" y="460.0" width="37.0" height="40.0" fill="rgb(188,188,188)" filter="url(#bl2)"/><rect x="477.0" y="460.0" width="39.0" height="40.0" fill="rgb(140,140,140)" filter="url(#bl2)"/><rect x="525.0" y="460.0" width="33.0" height="40.0" fill="rgb(175,175,175)" filter="url(#bl2)"/><rect x="570.0" y="460.0" width="36.0" height="40.0" fill="rgb(170,170,170)" filter="url(#bl2)"/><rect x="617.0" y="460.0" width="34.0" height="40.0" fill="rgb(185,185,185)" filter="url(#bl2)"/><rect x="662.0" y="460.0" width="42.0" height="40.0" fill="rgb(170,170,170)" filter="url(#bl2)"/><ellipse cx="496" cy="476" rx="14" ry="9" fill="rgb(110,110,110)" filter="url(#bl3)"/><ellipse cx="410" cy="478" rx="3" ry="5" fill="rgb(90,90,90)" filter="url(#bl1)"/><ellipse cx="699" cy="481" rx="6" ry="14" fill="rgb(15,15,15)" filter="url(#bl2)"/></g>
<rect x="322" y="457.7" width="385" height="39.80000000000001" fill="none" stroke="#000" stroke-width="2.4"/>
<line x1="707" y1="457.2" x2="737" y2="457.2" stroke="#000" stroke-width="2.4"/>
<line x1="707" y1="497.5" x2="737" y2="497.5" stroke="#000" stroke-width="2.4"/>
<clipPath id="c9"><rect x="322" y="506" width="385" height="40.39999999999998"/></clipPath>
<g clip-path="url(#c9)"><rect x="322" y="506" width="385" height="40.39999999999998" fill="rgb(250,250,250)"/><linearGradient id="lg5" x1="0" y1="0" x2="0" y2="1"><stop offset="0" stop-color="rgb(235,235,235)"/><stop offset="0.5" stop-color="rgb(200,200,200)"/><stop offset="1" stop-color="rgb(175,175,175)"/></linearGradient><rect x="329.0" y="512.0" width="40.0" height="38.0" fill="url(#lg5)" filter="url(#bl2)"/><linearGradient id="lg6" x1="0" y1="0" x2="0" y2="1"><stop offset="0" stop-color="rgb(220,220,220)"/><stop offset="0.5" stop-color="rgb(160,160,160)"/><stop offset="1" stop-color="rgb(140,140,140)"/></linearGradient><rect x="384.0" y="512.0" width="33.0" height="38.0" fill="url(#lg6)" filter="url(#bl2)"/><linearGradient id="lg7" x1="0" y1="0" x2="0" y2="1"><stop offset="0" stop-color="rgb(40,40,40)"/><stop offset="0.5" stop-color="rgb(15,15,15)"/><stop offset="1" stop-color="rgb(20,20,20)"/></linearGradient><rect x="428.0" y="512.0" width="38.0" height="38.0" fill="url(#lg7)" filter="url(#bl2)"/><linearGradient id="lg8" x1="0" y1="0" x2="0" y2="1"><stop offset="0" stop-color="rgb(90,90,90)"/><stop offset="0.5" stop-color="rgb(55,55,55)"/><stop offset="1" stop-color="rgb(50,50,50)"/></linearGradient><rect x="478.0" y="512.0" width="38.0" height="38.0" fill="url(#lg8)" filter="url(#bl2)"/><linearGradient id="lg9" x1="0" y1="0" x2="0" y2="1"><stop offset="0" stop-color="rgb(230,230,230)"/><stop offset="0.5" stop-color="rgb(210,210,210)"/><stop offset="1" stop-color="rgb(205,205,205)"/></linearGradient><rect x="525.0" y="512.0" width="31.0" height="38.0" fill="url(#lg9)" filter="url(#bl2)"/><linearGradient id="lg10" x1="0" y1="0" x2="0" y2="1"><stop offset="0" stop-color="rgb(238,238,238)"/><stop offset="0.5" stop-color="rgb(228,228,228)"/><stop offset="1" stop-color="rgb(225,225,225)"/></linearGradient><rect x="571.0" y="512.0" width="31.0" height="38.0" fill="url(#lg10)" filter="url(#bl2)"/><linearGradient id="lg11" x1="0" y1="0" x2="0" y2="1"><stop offset="0" stop-color="rgb(238,238,238)"/><stop offset="0.5" stop-color="rgb(228,228,228)"/><stop offset="1" stop-color="rgb(222,222,222)"/></linearGradient><rect x="618.0" y="512.0" width="31.0" height="38.0" fill="url(#lg11)" filter="url(#bl2)"/><linearGradient id="lg12" x1="0" y1="0" x2="0" y2="1"><stop offset="0" stop-color="rgb(236,236,236)"/><stop offset="0.5" stop-color="rgb(225,225,225)"/><stop offset="1" stop-color="rgb(220,220,220)"/></linearGradient><rect x="664.0" y="512.0" width="40.0" height="38.0" fill="url(#lg12)" filter="url(#bl2)"/><circle cx="344" cy="531" r="2.5" fill="#111"/><circle cx="396" cy="531" r="2" fill="#222"/><circle cx="408" cy="537" r="2" fill="#222"/><ellipse cx="696" cy="517" rx="3.5" ry="4" fill="#000"/></g>
<rect x="322" y="506" width="385" height="40.39999999999998" fill="none" stroke="#000" stroke-width="2.4"/>
<line x1="707" y1="546.4" x2="737" y2="546.4" stroke="#000" stroke-width="2.4"/>
<clipPath id="c10"><rect x="322" y="555.6" width="385" height="40.19999999999993"/></clipPath>
<g clip-path="url(#c10)"><rect x="322" y="555.6" width="385" height="40.19999999999993" fill="rgb(248,248,248)"/><path d="M333.0 570.0L367.0 572.0L367.0 582.0L333.0 580.0Z" fill="rgb(213,213,213)" stroke="rgb(213,213,213)" stroke-width="10.0" stroke-linejoin="round" filter="url(#bl3)"/><path d="M333.0 571.5L367.0 573.5L367.0 578.5L333.0 576.5Z" fill="rgb(85,85,85)" stroke="rgb(85,85,85)" stroke-width="8.0" stroke-linejoin="round" filter="url(#bl2)"/><path d="M381.0 572.0L412.0 571.0L412.0 581.0L381.0 582.0Z" fill="rgb(215,215,215)" stroke="rgb(215,215,215)" stroke-width="10.0" stroke-linejoin="round" filter="url(#bl3)"/><path d="M381.0 573.5L412.0 572.5L412.0 577.5L381.0 578.5Z" fill="rgb(95,95,95)" stroke="rgb(95,95,95)" stroke-width="8.0" stroke-linejoin="round" filter="url(#bl2)"/><path d="M426.0 572.0L456.0 572.0L456.0 582.0L426.0 582.0Z" fill="rgb(215,215,215)" stroke="rgb(215,215,215)" stroke-width="10.0" stroke-linejoin="round" filter="url(#bl3)"/><path d="M426.0 573.5L456.0 573.5L456.0 578.5L426.0 578.5Z" fill="rgb(95,95,95)" stroke="rgb(95,95,95)" stroke-width="8.0" stroke-linejoin="round" filter="url(#bl2)"/><path d="M470.0 573.5L502.0 573.5L502.0 584.5L470.0 584.5Z" fill="rgb(208,208,208)" stroke="rgb(208,208,208)" stroke-width="10.0" stroke-linejoin="round" filter="url(#bl3)"/><path d="M470.0 575.0L502.0 575.0L502.0 581.0L470.0 581.0Z" fill="rgb(60,60,60)" stroke="rgb(60,60,60)" stroke-width="8.0" stroke-linejoin="round" filter="url(#bl2)"/><path d="M517.0 572.5L551.0 572.5L551.0 583.5L517.0 583.5Z" fill="rgb(210,210,210)" stroke="rgb(210,210,210)" stroke-width="10.0" stroke-linejoin="round" filter="url(#bl3)"/><path d="M517.0 574.0L551.0 574.0L551.0 580.0L517.0 580.0Z" fill="rgb(70,70,70)" stroke="rgb(70,70,70)" stroke-width="8.0" stroke-linejoin="round" filter="url(#bl2)"/><path d="M566.0 570.5L596.0 571.5L596.0 580.5L566.0 579.5Z" fill="rgb(203,203,203)" stroke="rgb(203,203,203)" stroke-width="10.0" stroke-linejoin="round" filter="url(#bl3)"/><path d="M566.0 572.0L596.0 573.0L596.0 577.0L566.0 576.0Z" fill="rgb(40,40,40)" stroke="rgb(40,40,40)" stroke-width="8.0" stroke-linejoin="round" filter="url(#bl2)"/><path d="M609.0 574.0L644.0 574.0L644.0 582.0L609.0 582.0Z" fill="rgb(217,217,217)" stroke="rgb(217,217,217)" stroke-width="10.0" stroke-linejoin="round" filter="url(#bl3)"/><path d="M609.0 575.5L644.0 575.5L644.0 578.5L609.0 578.5Z" fill="rgb(100,100,100)" stroke="rgb(100,100,100)" stroke-width="8.0" stroke-linejoin="round" filter="url(#bl2)"/><path d="M657.0 573.5L696.0 568.5L696.0 577.5L657.0 582.5Z" fill="rgb(218,218,218)" stroke="rgb(218,218,218)" stroke-width="10.0" stroke-linejoin="round" filter="url(#bl3)"/><path d="M657.0 575.0L696.0 570.0L696.0 574.0L657.0 579.0Z" fill="rgb(105,105,105)" stroke="rgb(105,105,105)" stroke-width="8.0" stroke-linejoin="round" filter="url(#bl2)"/></g>
<rect x="322" y="555.6" width="385" height="40.19999999999993" fill="none" stroke="#000" stroke-width="2.4"/>
<line x1="707" y1="555.1" x2="737" y2="555.1" stroke="#000" stroke-width="2.4"/>
<line x1="707" y1="595.8" x2="737" y2="595.8" stroke="#000" stroke-width="2.4"/>
<clipPath id="c11"><rect x="1015" y="125.7" width="385" height="40.39999999999999"/></clipPath>
<g clip-path="url(#c11)"><rect x="1015" y="125.7" width="385" height="40.39999999999999" fill="rgb(250,250,250)"/><path d="M1026.0 147.0L1057.0 147.0L1057.0 149.0L1026.0 149.0Z" fill="rgb(246,246,246)" stroke="rgb(246,246,246)" stroke-width="10.0" stroke-linejoin="round" filter="url(#bl3)"/><path d="M1024.3 146.8L1058.7 146.8L1058.7 147.2L1024.3 147.2Z" fill="rgb(235,235,235)" stroke="rgb(235,235,235)" stroke-width="4.5" stroke-linejoin="round" filter="url(#bl15)"/><path d="M1070.0 146.5L1103.0 146.5L1103.0 149.5L1070.0 149.5Z" fill="rgb(228,228,228)" stroke="rgb(228,228,228)" stroke-width="10.0" stroke-linejoin="round" filter="url(#bl3)"/><path d="M1068.7 146.7L1104.3 146.7L1104.3 147.3L1068.7 147.3Z" fill="rgb(150,150,150)" stroke="rgb(150,150,150)" stroke-width="5.5" stroke-linejoin="round" filter="url(#bl15)"/><path d="M1117.0 146.0L1148.0 146.0L1148.0 150.0L1117.0 150.0Z" fill="rgb(219,219,219)" stroke="rgb(219,219,219)" stroke-width="10.0" stroke-linejoin="round" filter="url(#bl3)"/><path d="M1116.2 146.7L1148.8 146.7L1148.8 147.3L1116.2 147.3Z" fill="rgb(110,110,110)" stroke="rgb(110,110,110)" stroke-width="6.4" stroke-linejoin="round" filter="url(#bl15)"/><path d="M1162.0 150.5L1190.0 150.5L1190.0 153.5L1162.0 153.5Z" fill="rgb(231,231,231)" stroke="rgb(231,231,231)" stroke-width="10.0" stroke-linejoin="round" filter="url(#bl3)"/><path d="M1160.7 150.7L1191.3 150.7L1191.3 151.3L1160.7 151.3Z" fill="rgb(165,165,165)" stroke="rgb(165,165,165)" stroke-width="5.5" stroke-linejoin="round" filter="url(#bl15)"/><path d="M1205.0 151.0L1235.0 151.0L1235.0 153.0L1205.0 153.0Z" fill="rgb(232,232,232)" stroke="rgb(232,232,232)" stroke-width="10.0" stroke-linejoin="round" filter="url(#bl3)"/><path d="M1203.3 150.8L1236.7 150.8L1236.7 151.2L1203.3 151.2Z" fill="rgb(170,170,170)" stroke="rgb(170,170,170)" stroke-width="4.5" stroke-linejoin="round" filter="url(#bl15)"/><path d="M1250.0 150.5L1283.0 147.5L1283.0 150.5L1250.0 153.5Z" fill="rgb(218,218,218)" stroke="rgb(218,218,218)" stroke-width="10.0" stroke-linejoin="round" filter="url(#bl3)"/><path d="M1248.7 150.7L1284.3 147.7L1284.3 148.3L1248.7 151.3Z" fill="rgb(105,105,105)" stroke="rgb(105,105,105)" stroke-width="5.5" stroke-linejoin="round" filter="url(#bl15)"/><path d="M1297.0 146.0L1331.0 146.0L1331.0 150.0L1297.0 150.0Z" fill="rgb(199,199,199)" stroke="rgb(199,199,199)" stroke-width="10.0" stroke-linejoin="round" filter="url(#bl3)"/><path d="M1296.2 146.7L1331.8 146.7L1331.8 147.3L1296.2 147.3Z" fill="rgb(20,20,20)" stroke="rgb(20,20,20)" stroke-width="6.4" stroke-linejoin="round" filter="url(#bl15)"/><path d="M1345.0 145.0L1389.0 142.0L1389.0 146.0L1345.0 149.0Z" fill="rgb(197,197,197)" stroke="rgb(197,197,197)" stroke-width="10.0" stroke-linejoin="round" filter="url(#bl3)"/><path d="M1344.2 145.7L1389.8 142.7L1389.8 143.3L1344.2 146.3Z" fill="rgb(10,10,10)" stroke="rgb(10,10,10)" stroke-width="6.4" stroke-linejoin="round" filter="url(#bl15)"/></g>
<rect x="1015" y="125.7" width="385" height="40.39999999999999" fill="none" stroke="#000" stroke-width="2.4"/>
<line x1="1400" y1="125.2" x2="1425" y2="125.2" stroke="#000" stroke-width="2.4"/>
<line x1="1400" y1="166.1" x2="1425" y2="166.1" stroke="#000" stroke-width="2.4"/>
<clipPath id="c12"><rect x="1015" y="171.6" width="385" height="42.30000000000001"/></clipPath>
<g clip-path="url(#c12)"><rect x="1015" y="171.6" width="385" height="42.30000000000001" fill="rgb(214,214,214)"/><path d="M1027.0 192.5L1058.0 190.5L1058.0 197.5L1027.0 199.5Z" fill="rgb(169,169,169)" stroke="rgb(169,169,169)" stroke-width="10.0" stroke-linejoin="round" filter="url(#bl3)"/><path d="M1027.0 194.0L1058.0 192.0L1058.0 194.0L1027.0 196.0Z" fill="rgb(12,12,12)" stroke="rgb(12,12,12)" stroke-width="8.0" stroke-linejoin="round" filter="url(#bl15)"/><path d="M1071.0 190.5L1101.0 190.5L1101.0 197.5L1071.0 197.5Z" fill="rgb(169,169,169)" stroke="rgb(169,169,169)" stroke-width="10.0" stroke-linejoin="round" filter="url(#bl3)"/><path d="M1071.0 192.0L1101.0 192.0L1101.0 194.0L1071.0 194.0Z" fill="rgb(12,12,12)" stroke="rgb(12,12,12)" stroke-width="8.0" stroke-linejoin="round" filter="url(#bl15)"/><path d="M1115.0 190.5L1148.0 190.5L1148.0 197.5L1115.0 197.5Z" fill="rgb(169,169,169)" stroke="rgb(169,169,169)" stroke-width="10.0" stroke-linejoin="round" filter="url(#bl3)"/><path d="M1115.0 192.0L1148.0 192.0L1148.0 194.0L1115.0 194.0Z" fill="rgb(12,12,12)" stroke="rgb(12,12,12)" stroke-width="8.0" stroke-linejoin="round" filter="url(#bl15)"/><path d="M1161.0 188.5L1197.0 188.5L1197.0 197.5L1161.0 197.5Z" fill="rgb(168,168,168)" stroke="rgb(168,168,168)" stroke-width="10.0" stroke-linejoin="round" filter="url(#bl3)"/><path d="M1161.0 190.0L1197.0 190.0L1197.0 194.0L1161.0 194.0Z" fill="rgb(8,8,8)" stroke="rgb(8,8,8)" stroke-width="8.0" stroke-linejoin="round" filter="url(#bl15)"/><path d="M1212.0 191.0L1243.0 191.0L1243.0 197.0L1212.0 197.0Z" fill="rgb(169,169,169)" stroke="rgb(169,169,169)" stroke-width="10.0" stroke-linejoin="round" filter="url(#bl3)"/><path d="M1212.0 192.5L1243.0 192.5L1243.0 193.5L1212.0 193.5Z" fill="rgb(12,12,12)" stroke="rgb(12,12,12)" stroke-width="8.0" stroke-linejoin="round" filter="url(#bl15)"/><path d="M1258.0 193.0L1283.0 191.0L1283.0 195.0L1258.0 197.0Z" fill="rgb(170,170,170)" stroke="rgb(170,170,170)" stroke-width="10.0" stroke-linejoin="round" filter="url(#bl3)"/><path d="M1257.2 193.7L1283.8 191.7L1283.8 192.3L1257.2 194.3Z" fill="rgb(18,18,18)" stroke="rgb(18,18,18)" stroke-width="6.4" stroke-linejoin="round" filter="url(#bl15)"/><path d="M1301.0 192.0L1326.0 192.0L1326.0 196.0L1301.0 196.0Z" fill="rgb(170,170,170)" stroke="rgb(170,170,170)" stroke-width="10.0" stroke-linejoin="round" filter="url(#bl3)"/><path d="M1300.2 192.7L1326.8 192.7L1326.8 193.3L1300.2 193.3Z" fill="rgb(18,18,18)" stroke="rgb(18,18,18)" stroke-width="6.4" stroke-linejoin="round" filter="url(#bl15)"/><path d="M1345.0 188.0L1386.0 188.0L1386.0 196.0L1345.0 196.0Z" fill="rgb(168,168,168)" stroke="rgb(168,168,168)" stroke-width="10.0" stroke-linejoin="round" filter="url(#bl3)"/><path d="M1345.0 189.5L1386.0 189.5L1386.0 192.5L1345.0 192.5Z" fill="rgb(8,8,8)" stroke="rgb(8,8,8)" stroke-width="8.0" stroke-linejoin="round" filter="url(#bl15)"/></g>
<rect x="1015" y="171.6" width="385" height="42.30000000000001" fill="none" stroke="#000" stroke-width="2.4"/>
<line x1="1400" y1="171.1" x2="1425" y2="171.1" stroke="#000" stroke-width="2.4"/>
<line x1="1400" y1="213.9" x2="1425" y2="213.9" stroke="#000" stroke-width="2.4"/>
<clipPath id="c13"><rect x="1015" y="217.1" width="385" height="41.099999999999994"/></clipPath>
<g clip-path="url(#c13)"><rect x="1015" y="217.1" width="385" height="41.099999999999994" fill="rgb(250,250,250)"/><path d="M1025.0 236.5L1057.0 236.5L1057.0 245.5L1025.0 245.5Z" fill="rgb(195,195,195)" stroke="rgb(195,195,195)" stroke-width="10.0" stroke-linejoin="round" filter="url(#bl3)"/><path d="M1025.0 238.0L1057.0 238.0L1057.0 242.0L1025.0 242.0Z" fill="rgb(2,2,2)" stroke="rgb(2,2,2)" stroke-width="8.0" stroke-linejoin="round" filter="url(#bl15)"/><path d="M1070.0 234.0L1102.0 234.0L1102.0 246.0L1070.0 246.0Z" fill="rgb(195,195,195)" stroke="rgb(195,195,195)" stroke-width="10.0" stroke-linejoin="round" filter="url(#bl3)"/><path d="M1070.0 235.5L1102.0 235.5L1102.0 242.5L1070.0 242.5Z" fill="rgb(2,2,2)" stroke="rgb(2,2,2)" stroke-width="8.0" stroke-linejoin="round" filter="url(#bl15)"/><path d="M1116.0 234.5L1148.0 234.5L1148.0 245.5L1116.0 245.5Z" fill="rgb(195,195,195)" stroke="rgb(195,195,195)" stroke-width="10.0" stroke-linejoin="round" filter="url(#bl3)"/><path d="M1116.0 236.0L1148.0 236.0L1148.0 242.0L1116.0 242.0Z" fill="rgb(2,2,2)" stroke="rgb(2,2,2)" stroke-width="8.0" stroke-linejoin="round" filter="url(#bl15)"/><path d="M1161.0 238.0L1190.0 238.0L1190.0 250.0L1161.0 250.0Z" fill="rgb(195,195,195)" stroke="rgb(195,195,195)" stroke-width="10.0" stroke-linejoin="round" filter="url(#bl3)"/><path d="M1161.0 239.5L1190.0 239.5L1190.0 246.5L1161.0 246.5Z" fill="rgb(2,2,2)" stroke="rgb(2,2,2)" stroke-width="8.0" stroke-linejoin="round" filter="url(#bl15)"/><path d="M1205.0 241.5L1235.0 241.5L1235.0 248.5L1205.0 248.5Z" fill="rgb(195,195,195)" stroke="rgb(195,195,195)" stroke-width="10.0" stroke-linejoin="round" filter="url(#bl3)"/><path d="M1205.0 243.0L1235.0 243.0L1235.0 245.0L1205.0 245.0Z" fill="rgb(2,2,2)" stroke="rgb(2,2,2)" stroke-width="8.0" stroke-linejoin="round" filter="url(#bl15)"/><path d="M1249.0 240.0L1283.0 236.0L1283.0 244.0L1249.0 248.0Z" fill="rgb(195,195,195)" stroke="rgb(195,195,195)" stroke-width="10.0" stroke-linejoin="round" filter="url(#bl3)"/><path d="M1249.0 241.5L1283.0 237.5L1283.0 240.5L1249.0 244.5Z" fill="rgb(2,2,2)" stroke="rgb(2,2,2)" stroke-width="8.0" stroke-linejoin="round" filter="url(#bl15)"/><path d="M1297.0 233.5L1330.0 231.5L1330.0 242.5L1297.0 244.5Z" fill="rgb(195,195,195)" stroke="rgb(195,195,195)" stroke-width="10.0" stroke-linejoin="round" filter="url(#bl3)"/><path d="M1297.0 235.0L1330.0 233.0L1330.0 239.0L1297.0 241.0Z" fill="rgb(2,2,2)" stroke="rgb(2,2,2)" stroke-width="8.0" stroke-linejoin="round" filter="url(#bl15)"/><path d="M1345.0 234.0L1388.0 237.0L1388.0 249.0L1345.0 246.0Z" fill="rgb(195,195,195)" stroke="rgb(195,195,195)" stroke-width="10.0" stroke-linejoin="round" filter="url(#bl3)"/><path d="M1345.0 235.5L1388.0 238.5L1388.0 245.5L1345.0 242.5Z" fill="rgb(2,2,2)" stroke="rgb(2,2,2)" stroke-width="8.0" stroke-linejoin="round" filter="url(#bl15)"/></g>
<rect x="1015" y="217.1" width="385" height="41.099999999999994" fill="none" stroke="#000" stroke-width="2.4"/>
<line x1="1400" y1="216.6" x2="1425" y2="216.6" stroke="#000" stroke-width="2.4"/>
<line x1="1400" y1="258.2" x2="1425" y2="258.2" stroke="#000" stroke-width="2.4"/>
<clipPath id="c14"><rect x="1015" y="263" width="385" height="42.39999999999998"/></clipPath>
<g clip-path="url(#c14)"><rect x="1015" y="263" width="385" height="42.39999999999998" fill="rgb(250,250,250)"/><linearGradient id="lg13" x1="0" y1="0" x2="0" y2="1"><stop offset="0" stop-color="rgb(150,150,150)"/><stop offset="0.5" stop-color="rgb(110,110,110)"/><stop offset="1" stop-color="rgb(70,70,70)"/></linearGradient><rect x="1023.0" y="266.0" width="38.0" height="42.0" fill="url(#lg13)" filter="url(#bl2)"/><linearGradient id="lg14" x1="0" y1="0" x2="0" y2="1"><stop offset="0" stop-color="rgb(130,130,130)"/><stop offset="0.5" stop-color="rgb(100,100,100)"/><stop offset="1" stop-color="rgb(60,60,60)"/></linearGradient><rect x="1073.0" y="266.0" width="36.0" height="42.0" fill="url(#lg14)" filter="url(#bl2)"/><linearGradient id="lg15" x1="0" y1="0" x2="0" y2="1"><stop offset="0" stop-color="rgb(220,220,220)"/><stop offset="0.5" stop-color="rgb(215,215,215)"/><stop offset="1" stop-color="rgb(205,205,205)"/></linearGradient><rect x="1121.0" y="266.0" width="31.0" height="42.0" fill="url(#lg15)" filter="url(#bl2)"/><linearGradient id="lg16" x1="0" y1="0" x2="0" y2="1"><stop offset="0" stop-color="rgb(215,215,215)"/><stop offset="0.5" stop-color="rgb(205,205,205)"/><stop offset="1" stop-color="rgb(180,180,180)"/></linearGradient><rect x="1168.0" y="266.0" width="31.0" height="42.0" fill="url(#lg16)" filter="url(#bl2)"/><linearGradient id="lg17" x1="0" y1="0" x2="0" y2="1"><stop offset="0" stop-color="rgb(80,80,80)"/><stop offset="0.5" stop-color="rgb(35,35,35)"/><stop offset="1" stop-color="rgb(45,45,45)"/></linearGradient><rect x="1215.0" y="266.0" width="31.0" height="42.0" fill="url(#lg17)" filter="url(#bl2)"/><linearGradient id="lg18" x1="0" y1="0" x2="0" y2="1"><stop offset="0" stop-color="rgb(110,110,110)"/><stop offset="0.5" stop-color="rgb(75,75,75)"/><stop offset="1" stop-color="rgb(65,65,65)"/></linearGradient><rect x="1261.0" y="266.0" width="33.0" height="42.0" fill="url(#lg18)" filter="url(#bl2)"/><linearGradient id="lg19" x1="0" y1="0" x2="0" y2="1"><stop offset="0" stop-color="rgb(175,175,175)"/><stop offset="0.5" stop-color="rgb(135,135,135)"/><stop offset="1" stop-color="rgb(105,105,105)"/></linearGradient><rect x="1307.0" y="266.0" width="34.0" height="42.0" fill="url(#lg19)" filter="url(#bl2)"/><linearGradient id="lg20" x1="0" y1="0" x2="0" y2="1"><stop offset="0" stop-color="rgb(80,80,80)"/><stop offset="0.5" stop-color="rgb(45,45,45)"/><stop offset="1" stop-color="rgb(35,35,35)"/></linearGradient><rect x="1354.0" y="266.0" width="38.0" height="42.0" fill="url(#lg20)" filter="url(#bl2)"/><ellipse cx="1081" cy="281" rx="5" ry="7" fill="#111" filter="url(#bl1)"/><ellipse cx="1289" cy="283" rx="5" ry="7" fill="#111" filter="url(#bl1)"/></g>
<rect x="1015" y="263" width="385" height="42.39999999999998" fill="none" stroke="#000" stroke-width="2.4"/>
<line x1="1400" y1="262.5" x2="1425" y2="262.5" stroke="#000" stroke-width="2.4"/>
<line x1="1400" y1="305.4" x2="1425" y2="305.4" stroke="#000" stroke-width="2.4"/>
<clipPath id="c15"><rect x="1015" y="313.1" width="385" height="41.099999999999966"/></clipPath>
<g clip-path="url(#c15)"><rect x="1015" y="313.1" width="385" height="41.099999999999966" fill="rgb(250,250,250)"/><path d="M1029.0 332.5L1059.0 332.5L1059.0 343.5L1029.0 343.5Z" fill="rgb(195,195,195)" stroke="rgb(195,195,195)" stroke-width="10.0" stroke-linejoin="round" filter="url(#bl3)"/><path d="M1029.0 334.0L1059.0 334.0L1059.0 340.0L1029.0 340.0Z" fill="rgb(4,4,4)" stroke="rgb(4,4,4)" stroke-width="8.0" stroke-linejoin="round" filter="url(#bl15)"/><path d="M1079.0 333.0L1106.0 333.0L1106.0 343.0L1079.0 343.0Z" fill="rgb(198,198,198)" stroke="rgb(198,198,198)" stroke-width="10.0" stroke-linejoin="round" filter="url(#bl3)"/><path d="M1079.0 334.5L1106.0 334.5L1106.0 339.5L1079.0 339.5Z" fill="rgb(15,15,15)" stroke="rgb(15,15,15)" stroke-width="8.0" stroke-linejoin="round" filter="url(#bl15)"/><path d="M1127.0 333.0L1151.0 333.0L1151.0 343.0L1127.0 343.0Z" fill="rgb(200,200,200)" stroke="rgb(200,200,200)" stroke-width="10.0" stroke-linejoin="round" filter="url(#bl3)"/><path d="M1127.0 334.5L1151.0 334.5L1151.0 339.5L1127.0 339.5Z" fill="rgb(25,25,25)" stroke="rgb(25,25,25)" stroke-width="8.0" stroke-linejoin="round" filter="url(#bl15)"/><path d="M1173.0 333.0L1199.0 333.0L1199.0 343.0L1173.0 343.0Z" fill="rgb(198,198,198)" stroke="rgb(198,198,198)" stroke-width="10.0" stroke-linejoin="round" filter="url(#bl3)"/><path d="M1173.0 334.5L1199.0 334.5L1199.0 339.5L1173.0 339.5Z" fill="rgb(15,15,15)" stroke="rgb(15,15,15)" stroke-width="8.0" stroke-linejoin="round" filter="url(#bl15)"/><path d="M1219.0 333.0L1244.0 333.0L1244.0 343.0L1219.0 343.0Z" fill="rgb(198,198,198)" stroke="rgb(198,198,198)" stroke-width="10.0" stroke-linejoin="round" filter="url(#bl3)"/><path d="M1219.0 334.5L1244.0 334.5L1244.0 339.5L1219.0 339.5Z" fill="rgb(15,15,15)" stroke="rgb(15,15,15)" stroke-width="8.0" stroke-linejoin="round" filter="url(#bl15)"/><path d="M1266.0 333.0L1292.0 333.0L1292.0 343.0L1266.0 343.0Z" fill="rgb(200,200,200)" stroke="rgb(200,200,200)" stroke-width="10.0" stroke-linejoin="round" filter="url(#bl3)"/><path d="M1266.0 334.5L1292.0 334.5L1292.0 339.5L1266.0 339.5Z" fill="rgb(25,25,25)" stroke="rgb(25,25,25)" stroke-width="8.0" stroke-linejoin="round" filter="url(#bl15)"/><path d="M1313.0 333.0L1338.0 333.0L1338.0 343.0L1313.0 343.0Z" fill="rgb(201,201,201)" stroke="rgb(201,201,201)" stroke-width="10.0" stroke-linejoin="round" filter="url(#bl3)"/><path d="M1313.0 334.5L1338.0 334.5L1338.0 339.5L1313.0 339.5Z" fill="rgb(30,30,30)" stroke="rgb(30,30,30)" stroke-width="8.0" stroke-linejoin="round" filter="url(#bl15)"/><path d="M1359.0 332.0L1388.0 332.0L1388.0 342.0L1359.0 342.0Z" fill="rgb(208,208,208)" stroke="rgb(208,208,208)" stroke-width="10.0" stroke-linejoin="round" filter="url(#bl3)"/><path d="M1359.0 333.5L1388.0 333.5L1388.0 338.5L1359.0 338.5Z" fill="rgb(60,60,60)" stroke="rgb(60,60,60)" stroke-width="8.0" stroke-linejoin="round" filter="url(#bl15)"/></g>
<rect x="1015" y="313.1" width="385" height="41.099999999999966" fill="none" stroke="#000" stroke-width="2.4"/>
<line x1="1400" y1="312.6" x2="1425" y2="312.6" stroke="#000" stroke-width="2.4"/>
<line x1="1400" y1="354.2" x2="1425" y2="354.2" stroke="#000" stroke-width="2.4"/>
<clipPath id="c16"><rect x="1015" y="360" width="385" height="41"/></clipPath>
<g clip-path="url(#c16)"><rect x="1015" y="360" width="385" height="41" fill="rgb(236,236,236)"/><rect x="1021.0" y="358.0" width="42.0" height="46.0" fill="rgb(130,130,130)" filter="url(#bl2)"/><rect x="1073.0" y="358.0" width="37.0" height="46.0" fill="rgb(80,80,80)" filter="url(#bl2)"/><rect x="1120.0" y="358.0" width="35.0" height="46.0" fill="rgb(55,55,55)" filter="url(#bl2)"/><rect x="1166.0" y="358.0" width="39.0" height="46.0" fill="rgb(20,20,20)" filter="url(#bl2)"/><rect x="1209.0" y="358.0" width="39.0" height="46.0" fill="rgb(205,205,205)" filter="url(#bl2)"/><rect x="1259.0" y="358.0" width="35.0" height="46.0" fill="rgb(212,212,212)" filter="url(#bl2)"/><rect x="1305.0" y="358.0" width="34.0" height="46.0" fill="rgb(190,190,190)" filter="url(#bl2)"/><rect x="1351.0" y="358.0" width="46.0" height="46.0" fill="rgb(178,178,178)" filter="url(#bl2)"/></g>
<rect x="1015" y="360" width="385" height="41" fill="none" stroke="#000" stroke-width="2.4"/>
<line x1="1400" y1="359.5" x2="1425" y2="359.5" stroke="#000" stroke-width="2.4"/>
<line x1="1400" y1="401" x2="1425" y2="401" stroke="#000" stroke-width="2.4"/>
<clipPath id="c17"><rect x="1015" y="407.6" width="385" height="42.19999999999999"/></clipPath>
<g clip-path="url(#c17)"><rect x="1015" y="407.6" width="385" height="42.19999999999999" fill="rgb(250,250,250)"/><path d="M1026.0 426.5L1058.0 426.5L1058.0 435.5L1026.0 435.5Z" fill="rgb(195,195,195)" stroke="rgb(195,195,195)" stroke-width="10.0" stroke-linejoin="round" filter="url(#bl3)"/><path d="M1026.0 428.0L1058.0 428.0L1058.0 432.0L1026.0 432.0Z" fill="rgb(2,2,2)" stroke="rgb(2,2,2)" stroke-width="8.0" stroke-linejoin="round" filter="url(#bl15)"/><path d="M1071.0 424.5L1103.0 424.5L1103.0 435.5L1071.0 435.5Z" fill="rgb(195,195,195)" stroke="rgb(195,195,195)" stroke-width="10.0" stroke-linejoin="round" filter="url(#bl3)"/><path d="M1071.0 426.0L1103.0 426.0L1103.0 432.0L1071.0 432.0Z" fill="rgb(2,2,2)" stroke="rgb(2,2,2)" stroke-width="8.0" stroke-linejoin="round" filter="url(#bl15)"/><path d="M1117.0 424.5L1148.0 424.5L1148.0 435.5L1117.0 435.5Z" fill="rgb(195,195,195)" stroke="rgb(195,195,195)" stroke-width="10.0" stroke-linejoin="round" filter="url(#bl3)"/><path d="M1117.0 426.0L1148.0 426.0L1148.0 432.0L1117.0 432.0Z" fill="rgb(2,2,2)" stroke="rgb(2,2,2)" stroke-width="8.0" stroke-linejoin="round" filter="url(#bl15)"/><path d="M1162.0 427.5L1191.0 427.5L1191.0 438.5L1162.0 438.5Z" fill="rgb(195,195,195)" stroke="rgb(195,195,195)" stroke-width="10.0" stroke-linejoin="round" filter="url(#bl3)"/><path d="M1162.0 429.0L1191.0 429.0L1191.0 435.0L1162.0 435.0Z" fill="rgb(2,2,2)" stroke="rgb(2,2,2)" stroke-width="8.0" stroke-linejoin="round" filter="url(#bl15)"/><path d="M1206.0 430.5L1236.0 430.5L1236.0 437.5L1206.0 437.5Z" fill="rgb(195,195,195)" stroke="rgb(195,195,195)" stroke-width="10.0" stroke-linejoin="round" filter="url(#bl3)"/><path d="M1206.0 432.0L1236.0 432.0L1236.0 434.0L1206.0 434.0Z" fill="rgb(2,2,2)" stroke="rgb(2,2,2)" stroke-width="8.0" stroke-linejoin="round" filter="url(#bl15)"/><path d="M1251.0 430.5L1284.0 426.5L1284.0 433.5L1251.0 437.5Z" fill="rgb(195,195,195)" stroke="rgb(195,195,195)" stroke-width="10.0" stroke-linejoin="round" filter="url(#bl3)"/><path d="M1251.0 432.0L1284.0 428.0L1284.0 430.0L1251.0 434.0Z" fill="rgb(2,2,2)" stroke="rgb(2,2,2)" stroke-width="8.0" stroke-linejoin="round" filter="url(#bl15)"/><path d="M1298.0 423.0L1331.0 421.0L1331.0 431.0L1298.0 433.0Z" fill="rgb(195,195,195)" stroke="rgb(195,195,195)" stroke-width="10.0" stroke-linejoin="round" filter="url(#bl3)"/><path d="M1298.0 424.5L1331.0 422.5L1331.0 427.5L1298.0 429.5Z" fill="rgb(2,2,2)" stroke="rgb(2,2,2)" stroke-width="8.0" stroke-linejoin="round" filter="url(#bl15)"/><path d="M1346.0 424.5L1389.0 427.5L1389.0 438.5L1346.0 435.5Z" fill="rgb(195,195,195)" stroke="rgb(195,195,195)" stroke-width="10.0" stroke-linejoin="round" filter="url(#bl3)"/><path d="M1346.0 426.0L1389.0 429.0L1389.0 435.0L1346.0 432.0Z" fill="rgb(2,2,2)" stroke="rgb(2,2,2)" stroke-width="8.0" stroke-linejoin="round" filter="url(#bl15)"/></g>
<rect x="1015" y="407.6" width="385" height="42.19999999999999" fill="none" stroke="#000" stroke-width="2.4"/>
<line x1="1400" y1="407.1" x2="1425" y2="407.1" stroke="#000" stroke-width="2.4"/>
<line x1="1400" y1="449.8" x2="1425" y2="449.8" stroke="#000" stroke-width="2.4"/>
<clipPath id="c18"><rect x="1015" y="455" width="385" height="40.5"/></clipPath>
<g clip-path="url(#c18)"><rect x="1015" y="455" width="385" height="40.5" fill="rgb(242,242,242)"/><path d="M1027.0 475.5L1060.0 475.5L1060.0 480.5L1027.0 480.5Z" fill="rgb(206,206,206)" stroke="rgb(206,206,206)" stroke-width="10.0" stroke-linejoin="round" filter="url(#bl3)"/><path d="M1026.6 476.6L1060.4 476.6L1060.4 477.4L1026.6 477.4Z" fill="rgb(80,80,80)" stroke="rgb(80,80,80)" stroke-width="7.3" stroke-linejoin="round" filter="url(#bl15)"/><path d="M1076.0 470.0L1110.0 470.0L1110.0 484.0L1076.0 484.0Z" fill="rgb(189,189,189)" stroke="rgb(189,189,189)" stroke-width="10.0" stroke-linejoin="round" filter="url(#bl3)"/><path d="M1076.0 471.5L1110.0 471.5L1110.0 480.5L1076.0 480.5Z" fill="rgb(2,2,2)" stroke="rgb(2,2,2)" stroke-width="8.0" stroke-linejoin="round" filter="url(#bl15)"/><path d="M1125.0 470.0L1159.0 470.0L1159.0 484.0L1125.0 484.0Z" fill="rgb(189,189,189)" stroke="rgb(189,189,189)" stroke-width="10.0" stroke-linejoin="round" filter="url(#bl3)"/><path d="M1125.0 471.5L1159.0 471.5L1159.0 480.5L1125.0 480.5Z" fill="rgb(2,2,2)" stroke="rgb(2,2,2)" stroke-width="8.0" stroke-linejoin="round" filter="url(#bl15)"/><path d="M1173.0 469.5L1207.0 469.5L1207.0 482.5L1173.0 482.5Z" fill="rgb(189,189,189)" stroke="rgb(189,189,189)" stroke-width="10.0" stroke-linejoin="round" filter="url(#bl3)"/><path d="M1173.0 471.0L1207.0 471.0L1207.0 479.0L1173.0 479.0Z" fill="rgb(2,2,2)" stroke="rgb(2,2,2)" stroke-width="8.0" stroke-linejoin="round" filter="url(#bl15)"/><path d="M1225.0 468.5L1246.0 468.5L1246.0 471.5L1225.0 471.5Z" fill="rgb(232,232,232)" stroke="rgb(232,232,232)" stroke-width="10.0" stroke-linejoin="round" filter="url(#bl3)"/><path d="M1223.7 468.7L1247.3 468.7L1247.3 469.3L1223.7 469.3Z" fill="rgb(200,200,200)" stroke="rgb(200,200,200)" stroke-width="5.5" stroke-linejoin="round" filter="url(#bl15)"/><path d="M1269.0 468.5L1289.0 468.5L1289.0 471.5L1269.0 471.5Z" fill="rgb(236,236,236)" stroke="rgb(236,236,236)" stroke-width="10.0" stroke-linejoin="round" filter="url(#bl3)"/><path d="M1267.7 468.7L1290.3 468.7L1290.3 469.3L1267.7 469.3Z" fill="rgb(215,215,215)" stroke="rgb(215,215,215)" stroke-width="5.5" stroke-linejoin="round" filter="url(#bl15)"/><path d="M1310.0 467.5L1335.0 467.5L1335.0 470.5L1310.0 470.5Z" fill="rgb(231,231,231)" stroke="rgb(231,231,231)" stroke-width="10.0" stroke-linejoin="round" filter="url(#bl3)"/><path d="M1308.7 467.7L1336.3 467.7L1336.3 468.3L1308.7 468.3Z" fill="rgb(195,195,195)" stroke="rgb(195,195,195)" stroke-width="5.5" stroke-linejoin="round" filter="url(#bl15)"/><path d="M1358.0 468.5L1388.0 468.5L1388.0 471.5L1358.0 471.5Z" fill="rgb(234,234,234)" stroke="rgb(234,234,234)" stroke-width="10.0" stroke-linejoin="round" filter="url(#bl3)"/><path d="M1356.7 468.7L1389.3 468.7L1389.3 469.3L1356.7 469.3Z" fill="rgb(210,210,210)" stroke="rgb(210,210,210)" stroke-width="5.5" stroke-linejoin="round" filter="url(#bl15)"/></g>
<rect x="1015" y="455" width="385" height="40.5" fill="none" stroke="#000" stroke-width="2.4"/>
<line x1="1400" y1="454.5" x2="1425" y2="454.5" stroke="#000" stroke-width="2.4"/>
<line x1="1400" y1="495.5" x2="1425" y2="495.5" stroke="#000" stroke-width="2.4"/>
<clipPath id="c19"><rect x="1015" y="504.8" width="385" height="39.599999999999966"/></clipPath>
<g clip-path="url(#c19)"><rect x="1015" y="504.8" width="385" height="39.599999999999966" fill="rgb(250,250,250)"/><linearGradient id="lg21" x1="0" y1="0" x2="0" y2="1"><stop offset="0" stop-color="rgb(238,238,238)"/><stop offset="0.5" stop-color="rgb(225,225,225)"/><stop offset="1" stop-color="rgb(225,225,225)"/></linearGradient><rect x="1022.0" y="512.0" width="37.0" height="36.0" fill="url(#lg21)" filter="url(#bl2)"/><linearGradient id="lg22" x1="0" y1="0" x2="0" y2="1"><stop offset="0" stop-color="rgb(185,185,185)"/><stop offset="0.5" stop-color="rgb(125,125,125)"/><stop offset="1" stop-color="rgb(140,140,140)"/></linearGradient><rect x="1073.0" y="512.0" width="34.0" height="36.0" fill="url(#lg22)" filter="url(#bl2)"/><linearGradient id="lg23" x1="0" y1="0" x2="0" y2="1"><stop offset="0" stop-color="rgb(180,180,180)"/><stop offset="0.5" stop-color="rgb(125,125,125)"/><stop offset="1" stop-color="rgb(135,135,135)"/></linearGradient><rect x="1119.0" y="512.0" width="34.0" height="36.0" fill="url(#lg23)" filter="url(#bl2)"/><linearGradient id="lg24" x1="0" y1="0" x2="0" y2="1"><stop offset="0" stop-color="rgb(150,150,150)"/><stop offset="0.5" stop-color="rgb(75,75,75)"/><stop offset="1" stop-color="rgb(90,90,90)"/></linearGradient><rect x="1166.0" y="512.0" width="34.0" height="36.0" fill="url(#lg24)" filter="url(#bl2)"/><linearGradient id="lg25" x1="0" y1="0" x2="0" y2="1"><stop offset="0" stop-color="rgb(215,215,215)"/><stop offset="0.5" stop-color="rgb(190,190,190)"/><stop offset="1" stop-color="rgb(195,195,195)"/></linearGradient><rect x="1213.0" y="512.0" width="37.0" height="36.0" fill="url(#lg25)" filter="url(#bl2)"/><linearGradient id="lg26" x1="0" y1="0" x2="0" y2="1"><stop offset="0" stop-color="rgb(228,228,228)"/><stop offset="0.5" stop-color="rgb(215,215,215)"/><stop offset="1" stop-color="rgb(218,218,218)"/></linearGradient><rect x="1261.0" y="512.0" width="34.0" height="36.0" fill="url(#lg26)" filter="url(#bl2)"/><linearGradient id="lg27" x1="0" y1="0" x2="0" y2="1"><stop offset="0" stop-color="rgb(222,222,222)"/><stop offset="0.5" stop-color="rgb(200,200,200)"/><stop offset="1" stop-color="rgb(205,205,205)"/></linearGradient><rect x="1307.0" y="512.0" width="36.0" height="36.0" fill="url(#lg27)" filter="url(#bl2)"/><linearGradient id="lg28" x1="0" y1="0" x2="0" y2="1"><stop offset="0" stop-color="rgb(228,228,228)"/><stop offset="0.5" stop-color="rgb(215,215,215)"/><stop offset="1" stop-color="rgb(215,215,215)"/></linearGradient><rect x="1354.0" y="512.0" width="38.0" height="36.0" fill="url(#lg28)" filter="url(#bl2)"/><path d="M1236 516 L1243 525 L1249 517" stroke="#111" stroke-width="3" fill="none"/><circle cx="1377" cy="507" r="3" fill="#000"/></g>
<rect x="1015" y="504.8" width="385" height="39.599999999999966" fill="none" stroke="#000" stroke-width="2.4"/>
<line x1="1400" y1="544.4" x2="1425" y2="544.4" stroke="#000" stroke-width="2.4"/>
<clipPath id="c20"><rect x="1015" y="553.4" width="385" height="41.30000000000007"/></clipPath>
<g clip-path="url(#c20)"><rect x="1015" y="553.4" width="385" height="41.30000000000007" fill="rgb(250,250,250)"/><path d="M1026.0 565.5L1060.0 570.5L1060.0 579.5L1026.0 574.5Z" fill="rgb(197,197,197)" stroke="rgb(197,197,197)" stroke-width="10.0" stroke-linejoin="round" filter="url(#bl3)"/><path d="M1026.0 567.0L1060.0 572.0L1060.0 576.0L1026.0 571.0Z" fill="rgb(12,12,12)" stroke="rgb(12,12,12)" stroke-width="8.0" stroke-linejoin="round" filter="url(#bl2)"/><path d="M1077.0 574.0L1109.0 571.0L1109.0 581.0L1077.0 584.0Z" fill="rgb(202,202,202)" stroke="rgb(202,202,202)" stroke-width="10.0" stroke-linejoin="round" filter="url(#bl3)"/><path d="M1077.0 575.5L1109.0 572.5L1109.0 577.5L1077.0 580.5Z" fill="rgb(35,35,35)" stroke="rgb(35,35,35)" stroke-width="8.0" stroke-linejoin="round" filter="url(#bl2)"/><path d="M1123.0 567.0L1153.0 570.0L1153.0 580.0L1123.0 577.0Z" fill="rgb(199,199,199)" stroke="rgb(199,199,199)" stroke-width="10.0" stroke-linejoin="round" filter="url(#bl3)"/><path d="M1123.0 568.5L1153.0 571.5L1153.0 576.5L1123.0 573.5Z" fill="rgb(20,20,20)" stroke="rgb(20,20,20)" stroke-width="8.0" stroke-linejoin="round" filter="url(#bl2)"/><path d="M1169.0 572.5L1198.0 572.5L1198.0 583.5L1169.0 583.5Z" fill="rgb(204,204,204)" stroke="rgb(204,204,204)" stroke-width="10.0" stroke-linejoin="round" filter="url(#bl3)"/><path d="M1169.0 574.0L1198.0 574.0L1198.0 580.0L1169.0 580.0Z" fill="rgb(45,45,45)" stroke="rgb(45,45,45)" stroke-width="8.0" stroke-linejoin="round" filter="url(#bl2)"/><path d="M1213.0 570.0L1245.0 568.0L1245.0 576.0L1213.0 578.0Z" fill="rgb(204,204,204)" stroke="rgb(204,204,204)" stroke-width="10.0" stroke-linejoin="round" filter="url(#bl3)"/><path d="M1213.0 571.5L1245.0 569.5L1245.0 572.5L1213.0 574.5Z" fill="rgb(45,45,45)" stroke="rgb(45,45,45)" stroke-width="8.0" stroke-linejoin="round" filter="url(#bl2)"/><path d="M1261.0 566.5L1291.0 575.5L1291.0 584.5L1261.0 575.5Z" fill="rgb(204,204,204)" stroke="rgb(204,204,204)" stroke-width="10.0" stroke-linejoin="round" filter="url(#bl3)"/><path d="M1261.0 568.0L1291.0 577.0L1291.0 581.0L1261.0 572.0Z" fill="rgb(45,45,45)" stroke="rgb(45,45,45)" stroke-width="8.0" stroke-linejoin="round" filter="url(#bl2)"/><path d="M1308.0 575.0L1338.0 575.0L1338.0 583.0L1308.0 583.0Z" fill="rgb(213,213,213)" stroke="rgb(213,213,213)" stroke-width="10.0" stroke-linejoin="round" filter="url(#bl3)"/><path d="M1308.0 576.5L1338.0 576.5L1338.0 579.5L1308.0 579.5Z" fill="rgb(85,85,85)" stroke="rgb(85,85,85)" stroke-width="8.0" stroke-linejoin="round" filter="url(#bl2)"/><path d="M1354.0 572.0L1389.0 572.0L1389.0 580.0L1354.0 580.0Z" fill="rgb(223,223,223)" stroke="rgb(223,223,223)" stroke-width="10.0" stroke-linejoin="round" filter="url(#bl3)"/><path d="M1354.0 573.5L1389.0 573.5L1389.0 576.5L1354.0 576.5Z" fill="rgb(130,130,130)" stroke="rgb(130,130,130)" stroke-width="8.0" stroke-linejoin="round" filter="url(#bl2)"/></g>
<rect x="1015" y="553.4" width="385" height="41.30000000000007" fill="none" stroke="#000" stroke-width="2.4"/>
<line x1="1400" y1="552.9" x2="1425" y2="552.9" stroke="#000" stroke-width="2.4"/>
<line x1="1400" y1="594.7" x2="1425" y2="594.7" stroke="#000" stroke-width="2.4"/>
<text x="141.29" y="669.94" font-size="31.70" font-weight="bold" textLength="193.20" lengthAdjust="spacingAndGlyphs" fill="#000">γH2AX/H2AX</text>
<text x="-853.12" y="26.39" font-size="30.54" font-weight="bold" textLength="109.17" lengthAdjust="spacingAndGlyphs" fill="#000" transform="rotate(-90)">Protein</text>
<text x="-927.28" y="65.79" font-size="29.57" font-weight="bold" textLength="257.77" lengthAdjust="spacingAndGlyphs" fill="#000" transform="rotate(-90)">expression (fold)</text>
<text x="81.66" y="702.91" font-size="29.44" font-weight="bold" textLength="34.85" lengthAdjust="spacingAndGlyphs" fill="#000">25</text>
<text x="81.65" y="748.20" font-size="29.58" font-weight="bold" textLength="35.19" lengthAdjust="spacingAndGlyphs" fill="#000">20</text>
<text x="82.15" y="792.70" font-size="30.00" font-weight="bold" textLength="34.35" lengthAdjust="spacingAndGlyphs" fill="#000">15</text>
<text x="82.13" y="837.20" font-size="29.58" font-weight="bold" textLength="34.69" lengthAdjust="spacingAndGlyphs" fill="#000">10</text>
<text x="99.81" y="881.70" font-size="30.00" font-weight="bold" textLength="16.46" lengthAdjust="spacingAndGlyphs" fill="#000">5</text>
<text x="98.68" y="926.20" font-size="29.58" font-weight="bold" textLength="18.34" lengthAdjust="spacingAndGlyphs" fill="#000">0</text>
<line x1="196.0" y1="893.2" x2="196.0" y2="888.7" stroke="#000" stroke-width="5.5" stroke-linecap="butt"/>
<line x1="190.0" y1="888.7" x2="202.0" y2="888.7" stroke="#000" stroke-width="5" stroke-linecap="butt"/>
<rect x="161.50" y="908.50" width="22.90" height="8.50" fill="#0a64ff" stroke="#000" stroke-width="6.0" stroke-linejoin="round"/>
<rect x="184.40" y="894.20" width="23.20" height="22.80" fill="#ff0000" stroke="#000" stroke-width="6.0" stroke-linejoin="round"/>
<line x1="251.625" y1="883.2" x2="251.625" y2="877.5" stroke="#000" stroke-width="5.5" stroke-linecap="butt"/>
<line x1="245.625" y1="877.5" x2="257.625" y2="877.5" stroke="#000" stroke-width="5" stroke-linecap="butt"/>
<line x1="274.775" y1="804.8" x2="274.775" y2="778.2" stroke="#000" stroke-width="5.5" stroke-linecap="butt"/>
<line x1="268.775" y1="778.2" x2="280.775" y2="778.2" stroke="#000" stroke-width="5" stroke-linecap="butt"/>
<rect x="240.20" y="884.20" width="22.85" height="32.80" fill="#0a64ff" stroke="#000" stroke-width="6.0" stroke-linejoin="round"/>
<rect x="263.05" y="805.80" width="23.45" height="111.20" fill="#ff0000" stroke="#000" stroke-width="6.0" stroke-linejoin="round"/>
<line x1="330.7" y1="883.2" x2="330.7" y2="874.7" stroke="#000" stroke-width="5.5" stroke-linecap="butt"/>
<line x1="324.7" y1="874.7" x2="336.7" y2="874.7" stroke="#000" stroke-width="5" stroke-linecap="butt"/>
<line x1="354.2" y1="796.4" x2="354.2" y2="765.1" stroke="#000" stroke-width="5.5" stroke-linecap="butt"/>
<line x1="348.2" y1="765.1" x2="360.2" y2="765.1" stroke="#000" stroke-width="5" stroke-linecap="butt"/>
<rect x="318.90" y="884.20" width="23.60" height="32.80" fill="#0a64ff" stroke="#000" stroke-width="6.0" stroke-linejoin="round"/>
<rect x="342.50" y="797.40" width="23.40" height="119.60" fill="#ff0000" stroke="#000" stroke-width="6.0" stroke-linejoin="round"/>
<line x1="410.05" y1="893.2" x2="410.05" y2="889.7" stroke="#000" stroke-width="5.5" stroke-linecap="butt"/>
<line x1="404.05" y1="889.7" x2="416.05" y2="889.7" stroke="#000" stroke-width="5" stroke-linecap="butt"/>
<line x1="433.0" y1="839.1" x2="433.0" y2="817.8" stroke="#000" stroke-width="5.5" stroke-linecap="butt"/>
<line x1="427.0" y1="817.8" x2="439.0" y2="817.8" stroke="#000" stroke-width="5" stroke-linecap="butt"/>
<rect x="398.60" y="894.20" width="22.90" height="22.80" fill="#0a64ff" stroke="#000" stroke-width="6.0" stroke-linejoin="round"/>
<rect x="421.50" y="840.10" width="23.00" height="76.90" fill="#ff0000" stroke="#000" stroke-width="6.0" stroke-linejoin="round"/>
<line x1="145" y1="690.6" x2="145" y2="919.75" stroke="#000" stroke-width="5.5" stroke-linecap="butt"/>
<line x1="142.25" y1="917" x2="458" y2="917" stroke="#000" stroke-width="5.5" stroke-linecap="butt"/>
<line x1="145" y1="693.2" x2="154.2" y2="693.2" stroke="#000" stroke-width="5.5" stroke-linecap="butt"/>
<line x1="145" y1="738.8" x2="154.2" y2="738.8" stroke="#000" stroke-width="5.5" stroke-linecap="butt"/>
<line x1="145" y1="783.8" x2="154.2" y2="783.8" stroke="#000" stroke-width="5.5" stroke-linecap="butt"/>
<line x1="145" y1="828.5" x2="154.2" y2="828.5" stroke="#000" stroke-width="5.5" stroke-linecap="butt"/>
<line x1="145" y1="873.2" x2="154.2" y2="873.2" stroke="#000" stroke-width="5.5" stroke-linecap="butt"/>
<line x1="223.7" y1="917" x2="223.7" y2="908" stroke="#000" stroke-width="5.5" stroke-linecap="butt"/>
<line x1="303" y1="917" x2="303" y2="908" stroke="#000" stroke-width="5.5" stroke-linecap="butt"/>
<line x1="381" y1="917" x2="381" y2="908" stroke="#000" stroke-width="5.5" stroke-linecap="butt"/>
<line x1="458" y1="917" x2="458" y2="908" stroke="#000" stroke-width="5.5" stroke-linecap="butt"/>
<text x="243.10" y="883.63" font-size="39.46" font-weight="bold" textLength="14.57" lengthAdjust="spacingAndGlyphs" fill="#000">*</text>
<text x="267.70" y="785.73" font-size="39.46" font-weight="bold" textLength="14.57" lengthAdjust="spacingAndGlyphs" fill="#000">*</text>
<text x="321.70" y="878.93" font-size="39.46" font-weight="bold" textLength="14.57" lengthAdjust="spacingAndGlyphs" fill="#000">*</text>
<text x="347.20" y="771.73" font-size="39.46" font-weight="bold" textLength="14.57" lengthAdjust="spacingAndGlyphs" fill="#000">*</text>
<text x="401.40" y="894.23" font-size="39.46" font-weight="bold" textLength="14.57" lengthAdjust="spacingAndGlyphs" fill="#000">*</text>
<text x="425.90" y="826.03" font-size="39.46" font-weight="bold" textLength="14.57" lengthAdjust="spacingAndGlyphs" fill="#000">*</text>
<text x="224.04" y="734.32" font-size="25.60" font-weight="bold" font-style="italic" textLength="84.86" lengthAdjust="spacingAndGlyphs" fill="#000">p&lt;0.02</text>
<line x1="245.5" y1="748.8" x2="281" y2="748.8" stroke="#000" stroke-width="5.5" stroke-linecap="butt"/>
<text x="315.95" y="718.92" font-size="27.03" font-weight="bold" font-style="italic" textLength="85.62" lengthAdjust="spacingAndGlyphs" fill="#000">p&lt;0.05</text>
<line x1="329" y1="733.7" x2="363.4" y2="733.7" stroke="#000" stroke-width="5.5" stroke-linecap="butt"/>
<text x="377.55" y="771.32" font-size="25.60" font-weight="bold" font-style="italic" textLength="86.53" lengthAdjust="spacingAndGlyphs" fill="#000">p&lt;0.04</text>
<line x1="400.5" y1="786.6" x2="434.7" y2="786.6" stroke="#000" stroke-width="5.5" stroke-linecap="butt"/>
<text x="16.89" y="962.39" font-size="31.49" font-weight="bold" textLength="121.10" lengthAdjust="spacingAndGlyphs" fill="#000">Time (h)</text>
<text x="169.11" y="961.27" font-size="32.68" font-weight="bold" textLength="17.99" lengthAdjust="spacingAndGlyphs" fill="#000">0</text>
<text x="252.87" y="962.40" font-size="32.46" font-weight="bold" textLength="14.20" lengthAdjust="spacingAndGlyphs" fill="#000">1</text>
<text x="333.82" y="960.46" font-size="33.80" font-weight="bold" textLength="16.02" lengthAdjust="spacingAndGlyphs" fill="#000">3</text>
<text x="407.47" y="958.87" font-size="32.68" font-weight="bold" textLength="18.54" lengthAdjust="spacingAndGlyphs" fill="#000">6</text>
<text x="529.17" y="671.57" font-size="32.86" font-weight="bold" textLength="96.56" lengthAdjust="spacingAndGlyphs" fill="#000">FoxM1</text>
<text x="477.75" y="705.58" font-size="31.69" font-weight="bold" textLength="18.77" lengthAdjust="spacingAndGlyphs" fill="#000">6</text>
<text x="478.13" y="761.89" font-size="31.14" font-weight="bold" textLength="18.02" lengthAdjust="spacingAndGlyphs" fill="#000">5</text>
<text x="478.45" y="818.08" font-size="31.69" font-weight="bold" textLength="18.02" lengthAdjust="spacingAndGlyphs" fill="#000">3</text>
<text x="478.11" y="874.60" font-size="32.14" font-weight="bold" textLength="18.39" lengthAdjust="spacingAndGlyphs" fill="#000">2</text>
<text x="477.72" y="929.08" font-size="31.55" font-weight="bold" textLength="19.17" lengthAdjust="spacingAndGlyphs" fill="#000">0</text>
<line x1="572.8499999999999" y1="903.2" x2="572.8499999999999" y2="898.9" stroke="#000" stroke-width="5.5" stroke-linecap="butt"/>
<line x1="566.8499999999999" y1="898.9" x2="578.8499999999999" y2="898.9" stroke="#000" stroke-width="5" stroke-linecap="butt"/>
<rect x="538.00" y="883.30" width="23.30" height="36.00" fill="#0a64ff" stroke="#000" stroke-width="6.0" stroke-linejoin="round"/>
<rect x="561.30" y="904.20" width="23.10" height="15.10" fill="#ff0000" stroke="#000" stroke-width="6.0" stroke-linejoin="round"/>
<line x1="628.85" y1="833" x2="628.85" y2="814.3" stroke="#000" stroke-width="5.5" stroke-linecap="butt"/>
<line x1="622.85" y1="814.3" x2="634.85" y2="814.3" stroke="#000" stroke-width="5" stroke-linecap="butt"/>
<line x1="651.8" y1="903.8" x2="651.8" y2="901.6" stroke="#000" stroke-width="5.5" stroke-linecap="butt"/>
<line x1="645.8" y1="901.6" x2="657.8" y2="901.6" stroke="#000" stroke-width="5" stroke-linecap="butt"/>
<rect x="617.20" y="834.00" width="23.30" height="85.30" fill="#0a64ff" stroke="#000" stroke-width="6.0" stroke-linejoin="round"/>
<rect x="640.50" y="904.80" width="22.60" height="14.50" fill="#ff0000" stroke="#000" stroke-width="6.0" stroke-linejoin="round"/>
<line x1="708.4" y1="812.6" x2="708.4" y2="783.7" stroke="#000" stroke-width="5.5" stroke-linecap="butt"/>
<line x1="702.4" y1="783.7" x2="714.4" y2="783.7" stroke="#000" stroke-width="5" stroke-linecap="butt"/>
<line x1="732.05" y1="899.6" x2="732.05" y2="893.2" stroke="#000" stroke-width="5.5" stroke-linecap="butt"/>
<line x1="726.05" y1="893.2" x2="738.05" y2="893.2" stroke="#000" stroke-width="5" stroke-linecap="butt"/>
<rect x="696.40" y="813.60" width="24.00" height="105.70" fill="#0a64ff" stroke="#000" stroke-width="6.0" stroke-linejoin="round"/>
<rect x="720.40" y="900.60" width="23.30" height="18.70" fill="#ff0000" stroke="#000" stroke-width="6.0" stroke-linejoin="round"/>
<line x1="787.8" y1="766.2" x2="787.8" y2="725.9" stroke="#000" stroke-width="5.5" stroke-linecap="butt"/>
<line x1="781.8" y1="725.9" x2="793.8" y2="725.9" stroke="#000" stroke-width="5" stroke-linecap="butt"/>
<line x1="811.05" y1="901.4" x2="811.05" y2="896.5" stroke="#000" stroke-width="5.5" stroke-linecap="butt"/>
<line x1="805.05" y1="896.5" x2="817.05" y2="896.5" stroke="#000" stroke-width="5" stroke-linecap="butt"/>
<rect x="776.20" y="767.20" width="23.20" height="152.10" fill="#0a64ff" stroke="#000" stroke-width="6.0" stroke-linejoin="round"/>
<rect x="799.40" y="902.40" width="23.30" height="16.90" fill="#ff0000" stroke="#000" stroke-width="6.0" stroke-linejoin="round"/>
<line x1="522.3" y1="693.5" x2="522.3" y2="922.05" stroke="#000" stroke-width="5.5" stroke-linecap="butt"/>
<line x1="519.55" y1="919.3" x2="836.8" y2="919.3" stroke="#000" stroke-width="5.5" stroke-linecap="butt"/>
<line x1="522.3" y1="695.4" x2="531.5" y2="695.4" stroke="#000" stroke-width="5.5" stroke-linecap="butt"/>
<line x1="522.3" y1="751.6" x2="531.5" y2="751.6" stroke="#000" stroke-width="5.5" stroke-linecap="butt"/>
<line x1="522.3" y1="807.8" x2="531.5" y2="807.8" stroke="#000" stroke-width="5.5" stroke-linecap="butt"/>
<line x1="522.3" y1="864.1" x2="531.5" y2="864.1" stroke="#000" stroke-width="5.5" stroke-linecap="butt"/>
<line x1="601" y1="919.3" x2="601" y2="910.3" stroke="#000" stroke-width="5.5" stroke-linecap="butt"/>
<line x1="680" y1="919.3" x2="680" y2="910.3" stroke="#000" stroke-width="5.5" stroke-linecap="butt"/>
<line x1="760" y1="919.3" x2="760" y2="910.3" stroke="#000" stroke-width="5.5" stroke-linecap="butt"/>
<line x1="836.8" y1="919.3" x2="836.8" y2="910.3" stroke="#000" stroke-width="5.5" stroke-linecap="butt"/>
<text x="622.70" y="817.63" font-size="39.46" font-weight="bold" textLength="14.57" lengthAdjust="spacingAndGlyphs" fill="#000">*</text>
<text x="702.40" y="787.83" font-size="39.46" font-weight="bold" textLength="14.57" lengthAdjust="spacingAndGlyphs" fill="#000">*</text>
<text x="780.90" y="731.43" font-size="39.46" font-weight="bold" textLength="14.57" lengthAdjust="spacingAndGlyphs" fill="#000">*</text>
<text x="606.94" y="761.77" font-size="23.96" font-weight="bold" font-style="italic" textLength="84.84" lengthAdjust="spacingAndGlyphs" fill="#000">p&lt;0.01</text>
<line x1="629.2" y1="775.2" x2="664" y2="775.2" stroke="#000" stroke-width="5.5" stroke-linecap="butt"/>
<text x="683.74" y="733.02" font-size="23.74" font-weight="bold" font-style="italic" textLength="84.43" lengthAdjust="spacingAndGlyphs" fill="#000">p&lt;0.05</text>
<line x1="708.4" y1="747.6" x2="743.2" y2="747.6" stroke="#000" stroke-width="5.5" stroke-linecap="butt"/>
<text x="765.34" y="676.89" font-size="22.42" font-weight="bold" font-style="italic" textLength="84.84" lengthAdjust="spacingAndGlyphs" fill="#000">p&lt;0.01</text>
<line x1="787.6" y1="692" x2="822.4" y2="692" stroke="#000" stroke-width="5.5" stroke-linecap="butt"/>
<text x="549.11" y="962.67" font-size="32.68" font-weight="bold" textLength="17.99" lengthAdjust="spacingAndGlyphs" fill="#000">0</text>
<text x="632.87" y="961.40" font-size="33.62" font-weight="bold" textLength="14.20" lengthAdjust="spacingAndGlyphs" fill="#000">1</text>
<text x="712.99" y="962.68" font-size="31.55" font-weight="bold" textLength="16.91" lengthAdjust="spacingAndGlyphs" fill="#000">3</text>
<text x="787.53" y="961.88" font-size="32.11" font-weight="bold" textLength="17.61" lengthAdjust="spacingAndGlyphs" fill="#000">6</text>
<text x="894.58" y="670.17" font-size="32.86" font-weight="bold" textLength="99.30" lengthAdjust="spacingAndGlyphs" fill="#000">RAD51</text>
<text x="847.17" y="704.88" font-size="31.69" font-weight="bold" textLength="17.15" lengthAdjust="spacingAndGlyphs" fill="#000">6</text>
<text x="847.51" y="758.98" font-size="32.14" font-weight="bold" textLength="16.47" lengthAdjust="spacingAndGlyphs" fill="#000">5</text>
<text x="847.81" y="815.98" font-size="31.69" font-weight="bold" textLength="16.47" lengthAdjust="spacingAndGlyphs" fill="#000">3</text>
<text x="847.49" y="871.80" font-size="31.14" font-weight="bold" textLength="16.80" lengthAdjust="spacingAndGlyphs" fill="#000">2</text>
<text x="847.14" y="926.98" font-size="31.69" font-weight="bold" textLength="17.52" lengthAdjust="spacingAndGlyphs" fill="#000">0</text>
<line x1="942.65" y1="897.3" x2="942.65" y2="893.5" stroke="#000" stroke-width="5.5" stroke-linecap="butt"/>
<line x1="936.65" y1="893.5" x2="948.65" y2="893.5" stroke="#000" stroke-width="5" stroke-linecap="butt"/>
<rect x="909.00" y="880.80" width="22.30" height="36.00" fill="#0a64ff" stroke="#000" stroke-width="6.0" stroke-linejoin="round"/>
<rect x="931.30" y="898.30" width="22.70" height="18.50" fill="#ff0000" stroke="#000" stroke-width="6.0" stroke-linejoin="round"/>
<line x1="996.5" y1="793.8" x2="996.5" y2="763.9" stroke="#000" stroke-width="5.5" stroke-linecap="butt"/>
<line x1="990.5" y1="763.9" x2="1002.5" y2="763.9" stroke="#000" stroke-width="5" stroke-linecap="butt"/>
<line x1="1018.6500000000001" y1="896.6" x2="1018.6500000000001" y2="887.5" stroke="#000" stroke-width="5.5" stroke-linecap="butt"/>
<line x1="1012.6500000000001" y1="887.5" x2="1024.65" y2="887.5" stroke="#000" stroke-width="5" stroke-linecap="butt"/>
<rect x="985.60" y="794.80" width="21.80" height="122.00" fill="#0a64ff" stroke="#000" stroke-width="6.0" stroke-linejoin="round"/>
<rect x="1007.40" y="897.60" width="22.50" height="19.20" fill="#ff0000" stroke="#000" stroke-width="6.0" stroke-linejoin="round"/>
<line x1="1072.8000000000002" y1="792.7" x2="1072.8000000000002" y2="761.5" stroke="#000" stroke-width="5.5" stroke-linecap="butt"/>
<line x1="1066.8000000000002" y1="761.5" x2="1078.8000000000002" y2="761.5" stroke="#000" stroke-width="5" stroke-linecap="butt"/>
<line x1="1095.1" y1="893.2" x2="1095.1" y2="886.3" stroke="#000" stroke-width="5.5" stroke-linecap="butt"/>
<line x1="1089.1" y1="886.3" x2="1101.1" y2="886.3" stroke="#000" stroke-width="5" stroke-linecap="butt"/>
<rect x="1061.90" y="793.70" width="21.80" height="123.10" fill="#0a64ff" stroke="#000" stroke-width="6.0" stroke-linejoin="round"/>
<rect x="1083.70" y="894.20" width="22.80" height="22.60" fill="#ff0000" stroke="#000" stroke-width="6.0" stroke-linejoin="round"/>
<line x1="1150.1" y1="764.6" x2="1150.1" y2="720.4" stroke="#000" stroke-width="5.5" stroke-linecap="butt"/>
<line x1="1144.1" y1="720.4" x2="1156.1" y2="720.4" stroke="#000" stroke-width="5" stroke-linecap="butt"/>
<line x1="1172.6" y1="880.5" x2="1172.6" y2="869.2" stroke="#000" stroke-width="5.5" stroke-linecap="butt"/>
<line x1="1166.6" y1="869.2" x2="1178.6" y2="869.2" stroke="#000" stroke-width="5" stroke-linecap="butt"/>
<rect x="1138.50" y="765.60" width="23.20" height="151.20" fill="#0a64ff" stroke="#000" stroke-width="6.0" stroke-linejoin="round"/>
<rect x="1161.70" y="881.50" width="21.80" height="35.30" fill="#ff0000" stroke="#000" stroke-width="6.0" stroke-linejoin="round"/>
<line x1="892.7" y1="690.5" x2="892.7" y2="919.55" stroke="#000" stroke-width="5.5" stroke-linecap="butt"/>
<line x1="889.95" y1="916.8" x2="1198.8" y2="916.8" stroke="#000" stroke-width="5.5" stroke-linecap="butt"/>
<line x1="892.7" y1="692.6" x2="901.9000000000001" y2="692.6" stroke="#000" stroke-width="5.5" stroke-linecap="butt"/>
<line x1="892.7" y1="748.8" x2="901.9000000000001" y2="748.8" stroke="#000" stroke-width="5.5" stroke-linecap="butt"/>
<line x1="892.7" y1="805" x2="901.9000000000001" y2="805" stroke="#000" stroke-width="5.5" stroke-linecap="butt"/>
<line x1="892.7" y1="861.3" x2="901.9000000000001" y2="861.3" stroke="#000" stroke-width="5.5" stroke-linecap="butt"/>
<line x1="969.6" y1="916.8" x2="969.6" y2="907.8" stroke="#000" stroke-width="5.5" stroke-linecap="butt"/>
<line x1="1046.4" y1="916.8" x2="1046.4" y2="907.8" stroke="#000" stroke-width="5.5" stroke-linecap="butt"/>
<line x1="1122" y1="916.8" x2="1122" y2="907.8" stroke="#000" stroke-width="5.5" stroke-linecap="butt"/>
<line x1="1198.8" y1="916.8" x2="1198.8" y2="907.8" stroke="#000" stroke-width="5.5" stroke-linecap="butt"/>
<text x="991.70" y="767.43" font-size="39.46" font-weight="bold" textLength="14.57" lengthAdjust="spacingAndGlyphs" fill="#000">*</text>
<text x="1068.50" y="765.23" font-size="39.46" font-weight="bold" textLength="14.57" lengthAdjust="spacingAndGlyphs" fill="#000">*</text>
<text x="1144.10" y="722.23" font-size="39.46" font-weight="bold" textLength="14.57" lengthAdjust="spacingAndGlyphs" fill="#000">*</text>
<text x="954.53" y="712.34" font-size="25.05" font-weight="bold" font-style="italic" textLength="83.77" lengthAdjust="spacingAndGlyphs" fill="#000">p&lt;0.02</text>
<line x1="997.2" y1="724.8" x2="1033.2" y2="724.8" stroke="#000" stroke-width="5.5" stroke-linecap="butt"/>
<text x="1049.34" y="710.22" font-size="23.74" font-weight="bold" font-style="italic" textLength="84.03" lengthAdjust="spacingAndGlyphs" fill="#000">p&lt;0.04</text>
<line x1="1074" y1="724.8" x2="1108.8" y2="724.8" stroke="#000" stroke-width="5.5" stroke-linecap="butt"/>
<text x="1128.54" y="668.22" font-size="23.74" font-weight="bold" font-style="italic" textLength="84.96" lengthAdjust="spacingAndGlyphs" fill="#000">p&lt;0.03</text>
<line x1="1150.8" y1="681.1" x2="1185.6" y2="681.1" stroke="#000" stroke-width="5.5" stroke-linecap="butt"/>
<text x="919.91" y="961.27" font-size="32.68" font-weight="bold" textLength="17.99" lengthAdjust="spacingAndGlyphs" fill="#000">0</text>
<text x="1004.47" y="960.00" font-size="33.62" font-weight="bold" textLength="14.20" lengthAdjust="spacingAndGlyphs" fill="#000">1</text>
<text x="1083.79" y="961.27" font-size="32.68" font-weight="bold" textLength="16.91" lengthAdjust="spacingAndGlyphs" fill="#000">3</text>
<text x="1158.33" y="961.27" font-size="32.68" font-weight="bold" textLength="17.61" lengthAdjust="spacingAndGlyphs" fill="#000">6</text>
<text x="1265.29" y="670.18" font-size="32.39" font-weight="bold" textLength="108.62" lengthAdjust="spacingAndGlyphs" fill="#000">BRCA2</text>
<text x="1218.83" y="701.98" font-size="31.69" font-weight="bold" textLength="18.02" lengthAdjust="spacingAndGlyphs" fill="#000">8</text>
<text x="1218.45" y="758.28" font-size="31.69" font-weight="bold" textLength="18.77" lengthAdjust="spacingAndGlyphs" fill="#000">6</text>
<text x="1219.19" y="813.40" font-size="32.61" font-weight="bold" textLength="17.00" lengthAdjust="spacingAndGlyphs" fill="#000">4</text>
<text x="1218.81" y="869.60" font-size="31.14" font-weight="bold" textLength="18.39" lengthAdjust="spacingAndGlyphs" fill="#000">2</text>
<text x="1218.42" y="924.78" font-size="31.69" font-weight="bold" textLength="19.17" lengthAdjust="spacingAndGlyphs" fill="#000">0</text>
<line x1="1314.6" y1="885.7" x2="1314.6" y2="870.8" stroke="#000" stroke-width="5.5" stroke-linecap="butt"/>
<line x1="1308.6" y1="870.8" x2="1320.6" y2="870.8" stroke="#000" stroke-width="5" stroke-linecap="butt"/>
<rect x="1281.30" y="886.70" width="21.30" height="27.30" fill="#0a64ff" stroke="#000" stroke-width="6.0" stroke-linejoin="round"/>
<rect x="1302.60" y="886.70" width="24.00" height="27.30" fill="#ff0000" stroke="#000" stroke-width="6.0" stroke-linejoin="round"/>
<line x1="1368.5" y1="828.2" x2="1368.5" y2="813.6" stroke="#000" stroke-width="5.5" stroke-linecap="butt"/>
<line x1="1362.5" y1="813.6" x2="1374.5" y2="813.6" stroke="#000" stroke-width="5" stroke-linecap="butt"/>
<line x1="1390.9" y1="882.3" x2="1390.9" y2="861.8" stroke="#000" stroke-width="5.5" stroke-linecap="butt"/>
<line x1="1384.9" y1="861.8" x2="1396.9" y2="861.8" stroke="#000" stroke-width="5" stroke-linecap="butt"/>
<rect x="1357.80" y="829.20" width="21.40" height="84.80" fill="#0a64ff" stroke="#000" stroke-width="6.0" stroke-linejoin="round"/>
<rect x="1379.20" y="883.30" width="23.40" height="30.70" fill="#ff0000" stroke="#000" stroke-width="6.0" stroke-linejoin="round"/>
<line x1="1444.6" y1="757.9" x2="1444.6" y2="731.9" stroke="#000" stroke-width="5.5" stroke-linecap="butt"/>
<line x1="1438.6" y1="731.9" x2="1450.6" y2="731.9" stroke="#000" stroke-width="5" stroke-linecap="butt"/>
<line x1="1466.9499999999998" y1="877.7" x2="1466.9499999999998" y2="858.9" stroke="#000" stroke-width="5.5" stroke-linecap="butt"/>
<line x1="1460.9499999999998" y1="858.9" x2="1472.9499999999998" y2="858.9" stroke="#000" stroke-width="5" stroke-linecap="butt"/>
<rect x="1434.10" y="758.90" width="21.00" height="155.10" fill="#0a64ff" stroke="#000" stroke-width="6.0" stroke-linejoin="round"/>
<rect x="1455.10" y="878.70" width="23.70" height="35.30" fill="#ff0000" stroke="#000" stroke-width="6.0" stroke-linejoin="round"/>
<line x1="1521.75" y1="764.1" x2="1521.75" y2="708.9" stroke="#000" stroke-width="5.5" stroke-linecap="butt"/>
<line x1="1515.75" y1="708.9" x2="1527.75" y2="708.9" stroke="#000" stroke-width="5" stroke-linecap="butt"/>
<line x1="1543.95" y1="892.3" x2="1543.95" y2="883.1" stroke="#000" stroke-width="5.5" stroke-linecap="butt"/>
<line x1="1537.95" y1="883.1" x2="1549.95" y2="883.1" stroke="#000" stroke-width="5" stroke-linecap="butt"/>
<rect x="1510.30" y="765.10" width="22.90" height="148.90" fill="#0a64ff" stroke="#000" stroke-width="6.0" stroke-linejoin="round"/>
<rect x="1533.20" y="893.30" width="21.50" height="20.70" fill="#ff0000" stroke="#000" stroke-width="6.0" stroke-linejoin="round"/>
<line x1="1264.8" y1="688.5" x2="1264.8" y2="916.75" stroke="#000" stroke-width="5.5" stroke-linecap="butt"/>
<line x1="1262.05" y1="914" x2="1569.5" y2="914" stroke="#000" stroke-width="5.5" stroke-linecap="butt"/>
<line x1="1264.8" y1="690.4" x2="1274.0" y2="690.4" stroke="#000" stroke-width="5.5" stroke-linecap="butt"/>
<line x1="1264.8" y1="746.6" x2="1274.0" y2="746.6" stroke="#000" stroke-width="5.5" stroke-linecap="butt"/>
<line x1="1264.8" y1="802.8" x2="1274.0" y2="802.8" stroke="#000" stroke-width="5.5" stroke-linecap="butt"/>
<line x1="1264.8" y1="859.1" x2="1274.0" y2="859.1" stroke="#000" stroke-width="5.5" stroke-linecap="butt"/>
<line x1="1341" y1="914" x2="1341" y2="905" stroke="#000" stroke-width="5.5" stroke-linecap="butt"/>
<line x1="1417.4" y1="914" x2="1417.4" y2="905" stroke="#000" stroke-width="5.5" stroke-linecap="butt"/>
<line x1="1494" y1="914" x2="1494" y2="905" stroke="#000" stroke-width="5.5" stroke-linecap="butt"/>
<line x1="1569.5" y1="914" x2="1569.5" y2="905" stroke="#000" stroke-width="5.5" stroke-linecap="butt"/>
<text x="1362.30" y="820.13" font-size="39.46" font-weight="bold" textLength="14.57" lengthAdjust="spacingAndGlyphs" fill="#000">*</text>
<text x="1439.60" y="737.23" font-size="39.46" font-weight="bold" textLength="14.57" lengthAdjust="spacingAndGlyphs" fill="#000">*</text>
<text x="1515.10" y="715.73" font-size="39.46" font-weight="bold" textLength="14.57" lengthAdjust="spacingAndGlyphs" fill="#000">*</text>
<text x="1324.54" y="767.80" font-size="27.14" font-weight="bold" font-style="italic" textLength="84.23" lengthAdjust="spacingAndGlyphs" fill="#000">p&lt;0.05</text>
<line x1="1369" y1="778" x2="1403.8" y2="778" stroke="#000" stroke-width="5.5" stroke-linecap="butt"/>
<text x="1403.45" y="686.37" font-size="25.38" font-weight="bold" font-style="italic" textLength="86.16" lengthAdjust="spacingAndGlyphs" fill="#000">p&lt;0.03</text>
<line x1="1444.5" y1="697.3" x2="1480" y2="697.3" stroke="#000" stroke-width="5.5" stroke-linecap="butt"/>
<text x="1500.54" y="661.69" font-size="25.27" font-weight="bold" font-style="italic" textLength="85.03" lengthAdjust="spacingAndGlyphs" fill="#000">p&lt;0.04</text>
<line x1="1522" y1="676.3" x2="1557.8" y2="676.3" stroke="#000" stroke-width="5.5" stroke-linecap="butt"/>
<text x="1291.44" y="961.27" font-size="32.68" font-weight="bold" textLength="18.94" lengthAdjust="spacingAndGlyphs" fill="#000">0</text>
<text x="1375.27" y="960.00" font-size="33.62" font-weight="bold" textLength="14.20" lengthAdjust="spacingAndGlyphs" fill="#000">1</text>
<text x="1455.39" y="961.27" font-size="32.68" font-weight="bold" textLength="16.91" lengthAdjust="spacingAndGlyphs" fill="#000">3</text>
<text x="1529.93" y="961.27" font-size="32.68" font-weight="bold" textLength="17.61" lengthAdjust="spacingAndGlyphs" fill="#000">6</text>
<rect x="1572.95" y="691.85" width="19.00" height="19.00" fill="#0a64ff" stroke="#000" stroke-width="6.3"/>
<rect x="1572.95" y="726.05" width="19.00" height="19.00" fill="#ff0000" stroke="#000" stroke-width="6.3"/>
<text x="1598.05" y="709.64" font-size="26.06" font-weight="bold" textLength="54.09" lengthAdjust="spacingAndGlyphs" fill="#000">GFP</text>
<text x="1600.70" y="745.42" font-size="27.61" font-weight="bold" textLength="145.85" lengthAdjust="spacingAndGlyphs" fill="#000">WT FoxO3a</text>
<text x="162.89" y="1086.60" font-size="53.56" font-weight="bold" textLength="33.24" lengthAdjust="spacingAndGlyphs" fill="#000">b</text>
<text x="-1232.04" y="181.08" font-size="31.71" font-weight="bold" textLength="87.58" lengthAdjust="spacingAndGlyphs" fill="#000" transform="rotate(-90)">FoxM1</text>
<text x="-1274.82" y="217.30" font-size="30.00" font-weight="bold" textLength="175.55" lengthAdjust="spacingAndGlyphs" fill="#000" transform="rotate(-90)">mRNA (Fold)</text>
<text x="231.87" y="1105.22" font-size="28.31" font-weight="bold" textLength="43.07" lengthAdjust="spacingAndGlyphs" fill="#000">2.0</text>
<text x="232.27" y="1155.91" font-size="28.86" font-weight="bold" textLength="42.35" lengthAdjust="spacingAndGlyphs" fill="#000">1.5</text>
<text x="232.26" y="1206.51" font-size="29.30" font-weight="bold" textLength="42.67" lengthAdjust="spacingAndGlyphs" fill="#000">1.0</text>
<text x="231.56" y="1257.22" font-size="28.45" font-weight="bold" textLength="43.07" lengthAdjust="spacingAndGlyphs" fill="#000">0.5</text>
<text x="257.53" y="1302.01" font-size="29.30" font-weight="bold" textLength="17.63" lengthAdjust="spacingAndGlyphs" fill="#000">0</text>
<line x1="363.85" y1="1259.4" x2="363.85" y2="1248.8" stroke="#000" stroke-width="5.5" stroke-linecap="butt"/>
<line x1="357.85" y1="1248.8" x2="369.85" y2="1248.8" stroke="#000" stroke-width="5" stroke-linecap="butt"/>
<rect x="321.30" y="1197.20" width="28.30" height="100.80" fill="#0000ff" stroke="#000" stroke-width="6.0" stroke-linejoin="round"/>
<rect x="349.60" y="1260.40" width="28.50" height="37.60" fill="#ff0000" stroke="#000" stroke-width="6.0" stroke-linejoin="round"/>
<line x1="434.6" y1="1169.9" x2="434.6" y2="1164.1" stroke="#000" stroke-width="5.5" stroke-linecap="butt"/>
<line x1="428.6" y1="1164.1" x2="440.6" y2="1164.1" stroke="#000" stroke-width="5" stroke-linecap="butt"/>
<line x1="463.15" y1="1263.6" x2="463.15" y2="1258.7" stroke="#000" stroke-width="5.5" stroke-linecap="butt"/>
<line x1="457.15" y1="1258.7" x2="469.15" y2="1258.7" stroke="#000" stroke-width="5" stroke-linecap="butt"/>
<rect x="420.60" y="1170.90" width="28.00" height="127.10" fill="#0000ff" stroke="#000" stroke-width="6.0" stroke-linejoin="round"/>
<rect x="448.60" y="1264.60" width="29.10" height="33.40" fill="#ff0000" stroke="#000" stroke-width="6.0" stroke-linejoin="round"/>
<line x1="535.55" y1="1208" x2="535.55" y2="1197.7" stroke="#000" stroke-width="5.5" stroke-linecap="butt"/>
<line x1="529.55" y1="1197.7" x2="541.55" y2="1197.7" stroke="#000" stroke-width="5" stroke-linecap="butt"/>
<line x1="564.1" y1="1266.1" x2="564.1" y2="1262.9" stroke="#000" stroke-width="5.5" stroke-linecap="butt"/>
<line x1="558.1" y1="1262.9" x2="570.1" y2="1262.9" stroke="#000" stroke-width="5" stroke-linecap="butt"/>
<rect x="521.00" y="1209.00" width="29.10" height="89.00" fill="#0000ff" stroke="#000" stroke-width="6.0" stroke-linejoin="round"/>
<rect x="550.10" y="1267.10" width="28.00" height="30.90" fill="#ff0000" stroke="#000" stroke-width="6.0" stroke-linejoin="round"/>
<line x1="635.75" y1="1230.1" x2="635.75" y2="1224.0" stroke="#000" stroke-width="5.5" stroke-linecap="butt"/>
<line x1="629.75" y1="1224.0" x2="641.75" y2="1224.0" stroke="#000" stroke-width="5" stroke-linecap="butt"/>
<line x1="664.3" y1="1274.8" x2="664.3" y2="1270.4" stroke="#000" stroke-width="5.5" stroke-linecap="butt"/>
<line x1="658.3" y1="1270.4" x2="670.3" y2="1270.4" stroke="#000" stroke-width="5" stroke-linecap="butt"/>
<rect x="621.40" y="1231.10" width="28.70" height="66.90" fill="#0000ff" stroke="#000" stroke-width="6.0" stroke-linejoin="round"/>
<rect x="650.10" y="1275.80" width="28.40" height="22.20" fill="#ff0000" stroke="#000" stroke-width="6.0" stroke-linejoin="round"/>
<line x1="300" y1="1093.2" x2="300" y2="1300.75" stroke="#000" stroke-width="5.5" stroke-linecap="butt"/>
<line x1="297.25" y1="1298" x2="700.4" y2="1298" stroke="#000" stroke-width="5.5" stroke-linecap="butt"/>
<line x1="300" y1="1095.1" x2="309.2" y2="1095.1" stroke="#000" stroke-width="5.5" stroke-linecap="butt"/>
<line x1="300" y1="1146.2" x2="309.2" y2="1146.2" stroke="#000" stroke-width="5.5" stroke-linecap="butt"/>
<line x1="300" y1="1196.8" x2="309.2" y2="1196.8" stroke="#000" stroke-width="5.5" stroke-linecap="butt"/>
<line x1="300" y1="1247.7" x2="309.2" y2="1247.7" stroke="#000" stroke-width="5.5" stroke-linecap="butt"/>
<line x1="399" y1="1298" x2="399" y2="1289" stroke="#000" stroke-width="5.5" stroke-linecap="butt"/>
<line x1="500" y1="1298" x2="500" y2="1289" stroke="#000" stroke-width="5.5" stroke-linecap="butt"/>
<line x1="601" y1="1298" x2="601" y2="1289" stroke="#000" stroke-width="5.5" stroke-linecap="butt"/>
<line x1="700.4" y1="1298" x2="700.4" y2="1289" stroke="#000" stroke-width="5.5" stroke-linecap="butt"/>
<text x="430.00" y="1171.72" font-size="41.62" font-weight="bold" textLength="16.27" lengthAdjust="spacingAndGlyphs" fill="#000">*</text>
<text x="410.81" y="1120.39" font-size="25.27" font-weight="bold" font-style="italic" textLength="80.50" lengthAdjust="spacingAndGlyphs" fill="#000">p&lt;0.01</text>
<line x1="431.7" y1="1131.2" x2="465.1" y2="1131.2" stroke="#000" stroke-width="5.5" stroke-linecap="butt"/>
<text x="511.91" y="1171.79" font-size="25.27" font-weight="bold" font-style="italic" textLength="79.69" lengthAdjust="spacingAndGlyphs" fill="#000">p&lt;0.01</text>
<line x1="532.9" y1="1182.6" x2="565.4" y2="1182.6" stroke="#000" stroke-width="5.5" stroke-linecap="butt"/>
<text x="612.21" y="1200.99" font-size="25.27" font-weight="bold" font-style="italic" textLength="79.69" lengthAdjust="spacingAndGlyphs" fill="#000">p&lt;0.01</text>
<line x1="633.2" y1="1211.9" x2="666.6" y2="1211.9" stroke="#000" stroke-width="5.5" stroke-linecap="butt"/>
<rect x="520.15" y="1082.25" width="17.70" height="17.70" fill="#0a6cff" stroke="#000" stroke-width="5.5"/>
<rect x="520.15" y="1114.85" width="17.70" height="17.70" fill="#ff0000" stroke="#000" stroke-width="5.5"/>
<text x="542.98" y="1099.75" font-size="25.35" font-weight="bold" textLength="52.54" lengthAdjust="spacingAndGlyphs" fill="#000">GFP</text>
<text x="546.60" y="1131.65" font-size="25.35" font-weight="bold" textLength="138.56" lengthAdjust="spacingAndGlyphs" fill="#000">WT FoxO3a</text>
<text x="186.30" y="1333.52" font-size="28.94" font-weight="bold" textLength="115.00" lengthAdjust="spacingAndGlyphs" fill="#000">Time (h)</text>
<text x="333.72" y="1337.72" font-size="28.17" font-weight="bold" textLength="17.75" lengthAdjust="spacingAndGlyphs" fill="#000">0</text>
<text x="432.60" y="1338.00" font-size="28.99" font-weight="bold" textLength="13.02" lengthAdjust="spacingAndGlyphs" fill="#000">1</text>
<text x="536.40" y="1337.72" font-size="28.17" font-weight="bold" textLength="16.69" lengthAdjust="spacingAndGlyphs" fill="#000">3</text>
<text x="635.75" y="1337.72" font-size="28.17" font-weight="bold" textLength="17.38" lengthAdjust="spacingAndGlyphs" fill="#000">6</text>
<text x="945.88" y="1065.53" font-size="47.27" font-weight="bold" textLength="29.52" lengthAdjust="spacingAndGlyphs" fill="#000">c</text>
<text x="-1233.70" y="965.40" font-size="30.00" font-weight="bold" textLength="93.73" lengthAdjust="spacingAndGlyphs" fill="#000" transform="rotate(-90)">RAD51</text>
<text x="-1277.03" y="1001.10" font-size="29.04" font-weight="bold" textLength="184.43" lengthAdjust="spacingAndGlyphs" fill="#000" transform="rotate(-90)">mRNA (Fold)</text>
<text x="1037.20" y="1098.81" font-size="28.59" font-weight="bold" textLength="16.58" lengthAdjust="spacingAndGlyphs" fill="#000">3</text>
<text x="1036.57" y="1169.30" font-size="29.00" font-weight="bold" textLength="17.26" lengthAdjust="spacingAndGlyphs" fill="#000">2</text>
<text x="1037.12" y="1239.60" font-size="30.43" font-weight="bold" textLength="12.78" lengthAdjust="spacingAndGlyphs" fill="#000">1</text>
<text x="1036.53" y="1310.21" font-size="29.44" font-weight="bold" textLength="17.63" lengthAdjust="spacingAndGlyphs" fill="#000">0</text>
<line x1="1141.15" y1="1252.7" x2="1141.15" y2="1239.7" stroke="#000" stroke-width="5.5" stroke-linecap="butt"/>
<line x1="1135.15" y1="1239.7" x2="1147.15" y2="1239.7" stroke="#000" stroke-width="5" stroke-linecap="butt"/>
<rect x="1098.50" y="1229.70" width="29.30" height="71.30" fill="#0000ff" stroke="#000" stroke-width="6.0" stroke-linejoin="round"/>
<rect x="1127.80" y="1253.70" width="26.70" height="47.30" fill="#ff0000" stroke="#000" stroke-width="6.0" stroke-linejoin="round"/>
<line x1="1210.3000000000002" y1="1188.7" x2="1210.3000000000002" y2="1168.3" stroke="#000" stroke-width="5.5" stroke-linecap="butt"/>
<line x1="1204.3000000000002" y1="1168.3" x2="1216.3000000000002" y2="1168.3" stroke="#000" stroke-width="5" stroke-linecap="butt"/>
<line x1="1238.4" y1="1256.4" x2="1238.4" y2="1246.1" stroke="#000" stroke-width="5.5" stroke-linecap="butt"/>
<line x1="1232.4" y1="1246.1" x2="1244.4" y2="1246.1" stroke="#000" stroke-width="5" stroke-linecap="butt"/>
<rect x="1195.90" y="1189.70" width="28.80" height="111.30" fill="#0000ff" stroke="#000" stroke-width="6.0" stroke-linejoin="round"/>
<rect x="1224.70" y="1257.40" width="27.40" height="43.60" fill="#ff0000" stroke="#000" stroke-width="6.0" stroke-linejoin="round"/>
<line x1="1307.65" y1="1204.3" x2="1307.65" y2="1190.2" stroke="#000" stroke-width="5.5" stroke-linecap="butt"/>
<line x1="1301.65" y1="1190.2" x2="1313.65" y2="1190.2" stroke="#000" stroke-width="5" stroke-linecap="butt"/>
<line x1="1335.6999999999998" y1="1257.9" x2="1335.6999999999998" y2="1247.1" stroke="#000" stroke-width="5.5" stroke-linecap="butt"/>
<line x1="1329.6999999999998" y1="1247.1" x2="1341.6999999999998" y2="1247.1" stroke="#000" stroke-width="5" stroke-linecap="butt"/>
<rect x="1293.00" y="1205.30" width="29.30" height="95.70" fill="#0000ff" stroke="#000" stroke-width="6.0" stroke-linejoin="round"/>
<rect x="1322.30" y="1258.90" width="26.80" height="42.10" fill="#ff0000" stroke="#000" stroke-width="6.0" stroke-linejoin="round"/>
<line x1="1404.7" y1="1231.2" x2="1404.7" y2="1212.8" stroke="#000" stroke-width="5.5" stroke-linecap="butt"/>
<line x1="1398.7" y1="1212.8" x2="1410.7" y2="1212.8" stroke="#000" stroke-width="5" stroke-linecap="butt"/>
<line x1="1432.5500000000002" y1="1262.9" x2="1432.5500000000002" y2="1258.4" stroke="#000" stroke-width="5.5" stroke-linecap="butt"/>
<line x1="1426.5500000000002" y1="1258.4" x2="1438.5500000000002" y2="1258.4" stroke="#000" stroke-width="5" stroke-linecap="butt"/>
<rect x="1390.70" y="1232.20" width="28.00" height="68.80" fill="#0000ff" stroke="#000" stroke-width="6.0" stroke-linejoin="round"/>
<rect x="1418.70" y="1263.90" width="27.70" height="37.10" fill="#ff0000" stroke="#000" stroke-width="6.0" stroke-linejoin="round"/>
<line x1="1079.4" y1="1084.9" x2="1079.4" y2="1303.75" stroke="#000" stroke-width="5.5" stroke-linecap="butt"/>
<line x1="1076.65" y1="1301" x2="1470.7" y2="1301" stroke="#000" stroke-width="5.5" stroke-linecap="butt"/>
<line x1="1079.4" y1="1087.6" x2="1088.6000000000001" y2="1087.6" stroke="#000" stroke-width="5.5" stroke-linecap="butt"/>
<line x1="1079.4" y1="1158.5" x2="1088.6000000000001" y2="1158.5" stroke="#000" stroke-width="5.5" stroke-linecap="butt"/>
<line x1="1079.4" y1="1229.5" x2="1088.6000000000001" y2="1229.5" stroke="#000" stroke-width="5.5" stroke-linecap="butt"/>
<line x1="1176" y1="1301" x2="1176" y2="1292" stroke="#000" stroke-width="5.5" stroke-linecap="butt"/>
<line x1="1272" y1="1301" x2="1272" y2="1292" stroke="#000" stroke-width="5.5" stroke-linecap="butt"/>
<line x1="1371.3" y1="1301" x2="1371.3" y2="1292" stroke="#000" stroke-width="5.5" stroke-linecap="butt"/>
<line x1="1470.7" y1="1301" x2="1470.7" y2="1292" stroke="#000" stroke-width="5.5" stroke-linecap="butt"/>
<text x="1202.30" y="1177.89" font-size="46.22" font-weight="bold" textLength="17.27" lengthAdjust="spacingAndGlyphs" fill="#000">*</text>
<text x="1186.51" y="1119.65" font-size="25.93" font-weight="bold" font-style="italic" textLength="79.58" lengthAdjust="spacingAndGlyphs" fill="#000">p&lt;0.03</text>
<line x1="1206.9" y1="1133" x2="1240" y2="1133" stroke="#000" stroke-width="5.5" stroke-linecap="butt"/>
<text x="1284.90" y="1163.55" font-size="25.49" font-weight="bold" font-style="italic" textLength="79.28" lengthAdjust="spacingAndGlyphs" fill="#000">p&lt;0.03</text>
<line x1="1305.3" y1="1175.9" x2="1338.1" y2="1175.9" stroke="#000" stroke-width="5.5" stroke-linecap="butt"/>
<rect x="1295.75" y="1075.25" width="18.00" height="18.00" fill="#0a6cff" stroke="#000" stroke-width="5.5"/>
<rect x="1295.75" y="1109.95" width="18.00" height="18.00" fill="#ff0000" stroke="#000" stroke-width="5.5"/>
<text x="1319.71" y="1094.43" font-size="26.76" font-weight="bold" textLength="50.77" lengthAdjust="spacingAndGlyphs" fill="#000">GFP</text>
<text x="1323.40" y="1127.64" font-size="26.06" font-weight="bold" textLength="134.37" lengthAdjust="spacingAndGlyphs" fill="#000">WT FoxO3a</text>
<text x="970.51" y="1339.06" font-size="30.21" font-weight="bold" textLength="112.97" lengthAdjust="spacingAndGlyphs" fill="#000">Time (h)</text>
<text x="1114.72" y="1342.70" font-size="29.58" font-weight="bold" textLength="17.75" lengthAdjust="spacingAndGlyphs" fill="#000">0</text>
<text x="1211.60" y="1343.00" font-size="30.43" font-weight="bold" textLength="13.02" lengthAdjust="spacingAndGlyphs" fill="#000">1</text>
<text x="1312.42" y="1342.70" font-size="29.58" font-weight="bold" textLength="16.13" lengthAdjust="spacingAndGlyphs" fill="#000">3</text>
<text x="1408.75" y="1342.70" font-size="29.58" font-weight="bold" textLength="17.38" lengthAdjust="spacingAndGlyphs" fill="#000">6</text>
<text x="158.15" y="1458.50" font-size="52.33" font-weight="bold" textLength="32.87" lengthAdjust="spacingAndGlyphs" fill="#000">d</text>
<text x="-1621.90" y="171.59" font-size="31.27" font-weight="bold" textLength="103.45" lengthAdjust="spacingAndGlyphs" fill="#000" transform="rotate(-90)">BRCA2</text>
<text x="-1660.89" y="209.29" font-size="30.53" font-weight="bold" textLength="181.67" lengthAdjust="spacingAndGlyphs" fill="#000" transform="rotate(-90)">mRNA (Fold)</text>
<text x="243.15" y="1488.76" font-size="34.37" font-weight="bold" textLength="18.02" lengthAdjust="spacingAndGlyphs" fill="#000">3</text>
<text x="242.02" y="1558.60" font-size="34.71" font-weight="bold" textLength="19.98" lengthAdjust="spacingAndGlyphs" fill="#000">2</text>
<text x="242.96" y="1627.60" font-size="36.23" font-weight="bold" textLength="14.32" lengthAdjust="spacingAndGlyphs" fill="#000">1</text>
<text x="242.36" y="1696.86" font-size="34.37" font-weight="bold" textLength="20.00" lengthAdjust="spacingAndGlyphs" fill="#000">0</text>
<line x1="359.6" y1="1624" x2="359.6" y2="1617.4" stroke="#000" stroke-width="5.5" stroke-linecap="butt"/>
<line x1="353.6" y1="1617.4" x2="365.6" y2="1617.4" stroke="#000" stroke-width="5" stroke-linecap="butt"/>
<rect x="316.60" y="1618.00" width="28.50" height="68.00" fill="#0000ff" stroke="#000" stroke-width="6.0" stroke-linejoin="round"/>
<rect x="345.10" y="1625.00" width="29.00" height="61.00" fill="#ff0000" stroke="#000" stroke-width="6.0" stroke-linejoin="round"/>
<line x1="432.9" y1="1563.3" x2="432.9" y2="1552.2" stroke="#000" stroke-width="5.5" stroke-linecap="butt"/>
<line x1="426.9" y1="1552.2" x2="438.9" y2="1552.2" stroke="#000" stroke-width="5" stroke-linecap="butt"/>
<line x1="461.55" y1="1615.2" x2="461.55" y2="1611.2" stroke="#000" stroke-width="5.5" stroke-linecap="butt"/>
<line x1="455.55" y1="1611.2" x2="467.55" y2="1611.2" stroke="#000" stroke-width="5" stroke-linecap="butt"/>
<rect x="419.00" y="1564.30" width="27.80" height="121.70" fill="#0000ff" stroke="#000" stroke-width="6.0" stroke-linejoin="round"/>
<rect x="446.80" y="1616.20" width="29.50" height="69.80" fill="#ff0000" stroke="#000" stroke-width="6.0" stroke-linejoin="round"/>
<line x1="534.35" y1="1588.2" x2="534.35" y2="1555.9" stroke="#000" stroke-width="5.5" stroke-linecap="butt"/>
<line x1="528.35" y1="1555.9" x2="540.35" y2="1555.9" stroke="#000" stroke-width="5" stroke-linecap="butt"/>
<line x1="563.35" y1="1612.9" x2="563.35" y2="1596.5" stroke="#000" stroke-width="5.5" stroke-linecap="butt"/>
<line x1="557.35" y1="1596.5" x2="569.35" y2="1596.5" stroke="#000" stroke-width="5" stroke-linecap="butt"/>
<rect x="520.20" y="1589.20" width="28.30" height="96.80" fill="#0000ff" stroke="#000" stroke-width="6.0" stroke-linejoin="round"/>
<rect x="548.50" y="1613.90" width="29.70" height="72.10" fill="#ff0000" stroke="#000" stroke-width="6.0" stroke-linejoin="round"/>
<line x1="637.0" y1="1582.7" x2="637.0" y2="1564.0" stroke="#000" stroke-width="5.5" stroke-linecap="butt"/>
<line x1="631.0" y1="1564.0" x2="643.0" y2="1564.0" stroke="#000" stroke-width="5" stroke-linecap="butt"/>
<line x1="666.1" y1="1628.9" x2="666.1" y2="1617.5" stroke="#000" stroke-width="5.5" stroke-linecap="butt"/>
<line x1="660.1" y1="1617.5" x2="672.1" y2="1617.5" stroke="#000" stroke-width="5" stroke-linecap="butt"/>
<rect x="622.30" y="1583.70" width="29.40" height="102.30" fill="#0000ff" stroke="#000" stroke-width="6.0" stroke-linejoin="round"/>
<rect x="651.70" y="1629.90" width="28.80" height="56.10" fill="#ff0000" stroke="#000" stroke-width="6.0" stroke-linejoin="round"/>
<line x1="294.5" y1="1477.6" x2="294.5" y2="1688.75" stroke="#000" stroke-width="5.5" stroke-linecap="butt"/>
<line x1="291.75" y1="1686" x2="705" y2="1686" stroke="#000" stroke-width="5.5" stroke-linecap="butt"/>
<line x1="294.5" y1="1479.6" x2="303.7" y2="1479.6" stroke="#000" stroke-width="5.5" stroke-linecap="butt"/>
<line x1="294.5" y1="1548.5" x2="303.7" y2="1548.5" stroke="#000" stroke-width="5.5" stroke-linecap="butt"/>
<line x1="294.5" y1="1617.4" x2="303.7" y2="1617.4" stroke="#000" stroke-width="5.5" stroke-linecap="butt"/>
<line x1="396.9" y1="1686" x2="396.9" y2="1677" stroke="#000" stroke-width="5.5" stroke-linecap="butt"/>
<line x1="499.6" y1="1686" x2="499.6" y2="1677" stroke="#000" stroke-width="5.5" stroke-linecap="butt"/>
<line x1="602.3" y1="1686" x2="602.3" y2="1677" stroke="#000" stroke-width="5.5" stroke-linecap="butt"/>
<line x1="705" y1="1686" x2="705" y2="1677" stroke="#000" stroke-width="5.5" stroke-linecap="butt"/>
<text x="423.70" y="1559.84" font-size="43.24" font-weight="bold" textLength="15.97" lengthAdjust="spacingAndGlyphs" fill="#000">*</text>
<text x="404.63" y="1501.37" font-size="25.38" font-weight="bold" font-style="italic" textLength="83.57" lengthAdjust="spacingAndGlyphs" fill="#000">p&lt;0.02</text>
<line x1="426.1" y1="1513.4" x2="461" y2="1513.4" stroke="#000" stroke-width="5.5" stroke-linecap="butt"/>
<rect x="520.85" y="1462.55" width="18.50" height="18.50" fill="#0a6cff" stroke="#000" stroke-width="5.5"/>
<rect x="520.85" y="1496.75" width="18.50" height="18.50" fill="#ff0000" stroke="#000" stroke-width="5.5"/>
<text x="545.37" y="1481.25" font-size="25.21" font-weight="bold" textLength="52.95" lengthAdjust="spacingAndGlyphs" fill="#000">GFP</text>
<text x="548.00" y="1513.85" font-size="25.35" font-weight="bold" textLength="142.56" lengthAdjust="spacingAndGlyphs" fill="#000">WT FoxO3a</text>
<text x="177.49" y="1723.34" font-size="29.79" font-weight="bold" textLength="118.25" lengthAdjust="spacingAndGlyphs" fill="#000">Time (h)</text>
<text x="329.68" y="1727.69" font-size="30.99" font-weight="bold" textLength="18.34" lengthAdjust="spacingAndGlyphs" fill="#000">0</text>
<text x="430.47" y="1728.00" font-size="31.88" font-weight="bold" textLength="14.20" lengthAdjust="spacingAndGlyphs" fill="#000">1</text>
<text x="538.40" y="1727.69" font-size="30.99" font-weight="bold" textLength="16.69" lengthAdjust="spacingAndGlyphs" fill="#000">3</text>
<text x="639.67" y="1727.69" font-size="30.99" font-weight="bold" textLength="18.54" lengthAdjust="spacingAndGlyphs" fill="#000">6</text>
<text x="943.16" y="1460.07" font-size="53.09" font-weight="bold" textLength="29.78" lengthAdjust="spacingAndGlyphs" fill="#000">e</text>
<text x="1169.83" y="1469.87" font-size="28.72" font-weight="bold" textLength="218.92" lengthAdjust="spacingAndGlyphs" fill="#000">Collagen matrix</text>
<text x="-1765.05" y="994.31" font-size="29.47" font-weight="bold" textLength="219.74" lengthAdjust="spacingAndGlyphs" fill="#000" transform="rotate(-90)">Cell viability (%)</text>
<text x="1021.38" y="1529.17" font-size="23.10" font-weight="bold" textLength="45.06" lengthAdjust="spacingAndGlyphs" fill="#000">120</text>
<text x="1020.45" y="1622.67" font-size="23.24" font-weight="bold" textLength="46.02" lengthAdjust="spacingAndGlyphs" fill="#000">100</text>
<text x="1035.15" y="1717.77" font-size="23.10" font-weight="bold" textLength="31.45" lengthAdjust="spacingAndGlyphs" fill="#000">80</text>
<text x="1048.55" y="1811.24" font-size="26.06" font-weight="bold" textLength="17.40" lengthAdjust="spacingAndGlyphs" fill="#000">0</text>
<line x1="1086.6" y1="1517.3" x2="1086.6" y2="1772.5" stroke="#000" stroke-width="6.2" stroke-linecap="butt"/>
<line x1="1086.6" y1="1790.7" x2="1086.6" y2="1806" stroke="#000" stroke-width="6.2" stroke-linecap="butt"/>
<line x1="1083.5" y1="1802.9" x2="1517" y2="1802.9" stroke="#000" stroke-width="6.2" stroke-linecap="butt"/>
<line x1="1086.6" y1="1520.5" x2="1095.6" y2="1520.5" stroke="#000" stroke-width="6.2" stroke-linecap="butt"/>
<line x1="1086.6" y1="1615" x2="1095.6" y2="1615" stroke="#000" stroke-width="6.2" stroke-linecap="butt"/>
<line x1="1086.6" y1="1709.8" x2="1095.6" y2="1709.8" stroke="#000" stroke-width="6.2" stroke-linecap="butt"/>
<line x1="1152.9" y1="1802.9" x2="1152.9" y2="1795" stroke="#000" stroke-width="6.2" stroke-linecap="butt"/>
<line x1="1300.7" y1="1802.9" x2="1300.7" y2="1795" stroke="#000" stroke-width="6.2" stroke-linecap="butt"/>
<line x1="1448.6" y1="1802.9" x2="1448.6" y2="1795" stroke="#000" stroke-width="6.2" stroke-linecap="butt"/>
<line x1="1089" y1="1613.2" x2="1504" y2="1616" stroke="#8468b0" stroke-width="2.2" stroke-dasharray="4.2,4.2"/>
<rect x="1102.00" y="1639.60" width="44.40" height="13.20" fill="#000"/>
<rect x="1115.20" y="1638.40" width="17.60" height="2.60" fill="#000"/>
<rect x="1170.80" y="1605.20" width="18.40" height="6.50" fill="#000"/>
<rect x="1170.80" y="1685.10" width="18.40" height="4.50" fill="#000"/>
<rect x="1161.60" y="1614.40" width="36.80" height="68.00" fill="#ff0000" stroke="#000" stroke-width="6.4"/>
<line x1="1159.4" y1="1652" x2="1200.6" y2="1652" stroke="#000" stroke-width="6.4" stroke-linecap="butt"/>
<rect x="1262.80" y="1603.50" width="18.40" height="2.00" fill="#000"/>
<rect x="1262.80" y="1636.30" width="18.40" height="7.40" fill="#000"/>
<rect x="1253.20" y="1607.60" width="37.60" height="26.00" fill="#0000ff" stroke="#000" stroke-width="6.4"/>
<line x1="1251" y1="1633.3" x2="1293" y2="1633.3" stroke="#000" stroke-width="6.4" stroke-linecap="butt"/>
<rect x="1250.00" y="1604.40" width="44.00" height="9.00" fill="#000"/>
<rect x="1319.50" y="1610.50" width="17.00" height="6.00" fill="#000"/>
<line x1="1328.0" y1="1731.4" x2="1328.0" y2="1738.6" stroke="#000" stroke-width="6.4" stroke-linecap="butt"/>
<rect x="1319.50" y="1738.10" width="17.00" height="6.70" fill="#000"/>
<rect x="1309.60" y="1619.20" width="36.80" height="110.00" fill="#ff0000" stroke="#000" stroke-width="6.4"/>
<line x1="1307.4" y1="1665.3" x2="1348.6" y2="1665.3" stroke="#000" stroke-width="6.4" stroke-linecap="butt"/>
<rect x="1411.00" y="1572.00" width="18.40" height="2.80" fill="#000"/>
<rect x="1411.00" y="1643.20" width="18.40" height="4.40" fill="#000"/>
<rect x="1401.40" y="1577.50" width="37.60" height="63.00" fill="#0000ff" stroke="#000" stroke-width="6.4"/>
<line x1="1399.2" y1="1606.3" x2="1441.2" y2="1606.3" stroke="#000" stroke-width="6.4" stroke-linecap="butt"/>
<line x1="1476.1" y1="1607.4" x2="1476.1" y2="1629.3" stroke="#000" stroke-width="6.4" stroke-linecap="butt"/>
<rect x="1467.60" y="1601.30" width="17.00" height="6.60" fill="#000"/>
<line x1="1476.1" y1="1750.7" x2="1476.1" y2="1756.4" stroke="#000" stroke-width="6.4" stroke-linecap="butt"/>
<rect x="1467.60" y="1755.90" width="17.00" height="6.60" fill="#000"/>
<rect x="1457.70" y="1631.50" width="36.80" height="117.00" fill="#ff0000" stroke="#000" stroke-width="6.4"/>
<line x1="1455.5" y1="1717" x2="1496.7" y2="1717" stroke="#000" stroke-width="6.4" stroke-linecap="butt"/>
<text x="1116.00" y="1642.69" font-size="42.16" font-weight="bold" textLength="16.77" lengthAdjust="spacingAndGlyphs" fill="#000">*</text>
<text x="1170.80" y="1612.24" font-size="43.24" font-weight="bold" textLength="16.77" lengthAdjust="spacingAndGlyphs" fill="#000">*</text>
<text x="1318.00" y="1617.81" font-size="41.89" font-weight="bold" textLength="15.37" lengthAdjust="spacingAndGlyphs" fill="#000">*</text>
<text x="1467.60" y="1606.21" font-size="41.89" font-weight="bold" textLength="16.97" lengthAdjust="spacingAndGlyphs" fill="#000">*</text>
<text x="1256.89" y="1564.36" font-size="23.52" font-weight="bold" font-style="italic" textLength="77.27" lengthAdjust="spacingAndGlyphs" fill="#000">p&lt;0.01</text>
<line x1="1269.3" y1="1577.4" x2="1326.4" y2="1577.4" stroke="#000" stroke-width="5.5" stroke-linecap="butt"/>
<text x="1409.10" y="1543.48" font-size="24.40" font-weight="bold" font-style="italic" textLength="77.87" lengthAdjust="spacingAndGlyphs" fill="#000">p&lt;0.01</text>
<line x1="1422" y1="1556.4" x2="1479.3" y2="1556.4" stroke="#000" stroke-width="5.5" stroke-linecap="butt"/>
<rect x="1455.05" y="1453.15" width="17.30" height="17.30" fill="#0a6cff" stroke="#000" stroke-width="5.7"/>
<rect x="1455.05" y="1486.05" width="17.30" height="17.30" fill="#ff0000" stroke="#000" stroke-width="5.7"/>
<text x="1480.03" y="1470.67" font-size="23.24" font-weight="bold" textLength="49.63" lengthAdjust="spacingAndGlyphs" fill="#000">GFP</text>
<text x="1481.00" y="1502.56" font-size="23.94" font-weight="bold" textLength="133.57" lengthAdjust="spacingAndGlyphs" fill="#000">WT FoxO3a</text>
<text x="915.51" y="1840.10" font-size="29.04" font-weight="bold" textLength="159.60" lengthAdjust="spacingAndGlyphs" fill="#000">Time (days)</text>
<text x="1138.42" y="1842.70" font-size="29.58" font-weight="bold" textLength="16.13" lengthAdjust="spacingAndGlyphs" fill="#000">3</text>
<text x="1284.40" y="1843.00" font-size="30.43" font-weight="bold" textLength="16.79" lengthAdjust="spacingAndGlyphs" fill="#000">4</text>
<text x="1432.10" y="1842.70" font-size="30.00" font-weight="bold" textLength="16.69" lengthAdjust="spacingAndGlyphs" fill="#000">5</text>
</svg></body></html>
